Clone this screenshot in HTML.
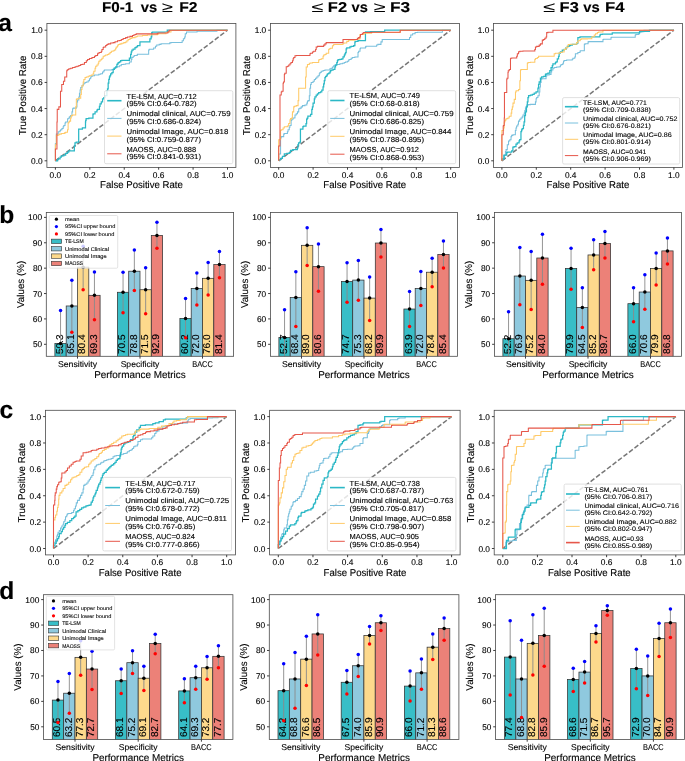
<!DOCTYPE html>
<html><head><meta charset="utf-8"><style>
html,body{margin:0;padding:0;background:#fff;width:685px;height:761px;overflow:hidden}
svg{display:block;will-change:transform}
text{font-family:"Liberation Sans", sans-serif;stroke:currentColor;stroke-width:0.12px;text-rendering:geometricPrecision}
</style></head><body>
<svg width="685" height="761" viewBox="0 0 685 761">
<rect width="685" height="761" fill="#fff"/>
<g>
<line x1="55.4" y1="160.8" x2="227.5" y2="30.2" stroke="#777" stroke-width="1.5" stroke-dasharray="4.8 2.1"/>
<polyline points="55.4,160.8 55.4,147.78 55.4,143.44 56.34,143.44 56.34,134.13 58.2,134.13 58.2,131.65 60.07,131.65 60.07,130.41 60.69,130.41 60.69,129.79 61.93,129.79 61.93,128.55 63.17,128.55 63.17,126.69 63.79,126.69 63.79,125.45 65.03,125.45 65.03,122.96 65.65,122.96 65.65,121.99 67.6,121.99 67.6,121.1 67.6,119.99 67.6,119.86 67.6,118.74 68.85,118.74 68.85,118.62 68.85,118 69.37,118 69.37,116.87 70.47,116.87 70.47,115.62 71.97,115.62 71.97,111.88 72.59,111.88 72.59,108.75 73.22,108.75 73.22,108.13 75.09,108.13 76.34,108.13 76.34,106.88 76.96,106.88 76.96,101.89 77.59,101.89 77.59,100.02 78.84,100.02 78.84,96.9 79.46,96.9 79.46,93.15 80.08,93.15 80.08,90.03 80.71,90.03 80.71,87.54 81.96,87.54 81.96,85.66 83.2,85.66 83.2,84.42 83.83,84.42 83.83,83.17 85.08,83.17 85.08,82.54 86.32,82.54 86.32,81.92 88.2,81.92 88.2,80.67 89.44,80.67 89.44,78.8 90.69,78.8 90.69,76.93 91.32,76.93 91.32,76.3 92.57,76.3 92.57,75.68 94.44,75.68 94.44,75.05 96.93,75.05 98.81,75.05 98.81,74.18 100.68,74.18 100.68,73.81 102.55,73.81 102.55,71.93 103.8,71.93 103.8,70.69 104.42,70.69 104.42,70.06 105.67,70.06 111.91,70.06 111.91,69.44 113.78,69.44 113.78,68.19 115.03,68.19 115.03,67.57 116.9,67.57 116.9,66.69 119.4,66.69 119.4,65.69 121.27,65.69 121.27,64.44 123.77,64.44 123.77,64.2 125.64,64.2 125.64,63.82 129.39,63.82 129.39,61.95 131.26,61.95 131.26,59.45 131.88,59.45 131.88,57.58 133.13,57.58 133.13,56.33 134.38,56.33 134.38,55.54 135,55.54 135.63,55.54 135.63,55.46 137,55.46 137,54.92 137.48,54.92 137.48,54.3 139.96,54.3 148.65,54.3 148.65,49.96 149.27,49.96 149.27,49.34 153.61,49.34 153.61,48.09 155.47,48.09 155.47,46.23 156.72,46.23 156.72,44.99 159.2,44.99 159.2,44.37 161.06,44.37 161.06,43.75 169.74,43.75 169.74,42.88 170.99,42.88 170.99,42.51 182.15,42.51 182.15,40.65 183.39,40.65 183.39,38.79 184.64,38.79 184.64,36.93 185.26,36.93 185.26,33.82 186.5,33.82 186.5,31.96 187.74,31.96 197.04,31.96 197.04,31.34 198.28,31.34 216.9,31.34 216.9,30.2 220,30.2 227.5,30.2" fill="none" stroke="#79c0dd" stroke-width="1.05" stroke-linejoin="miter"/>
<polyline points="55.4,160.8 57.58,160.8 57.58,159.57 58.2,159.57 58.2,158.95 60.07,158.95 60.07,157.09 61.31,157.09 61.31,155.85 63.79,155.85 63.79,155.23 65.65,155.23 65.65,153.36 67.51,153.36 67.51,152.12 68.75,152.12 68.75,150.88 69.99,150.88 74.34,150.88 74.34,145.92 74.96,145.92 74.96,142.82 76.2,142.82 76.2,142.2 77.44,142.2 78.68,142.2 78.68,130.41 78.68,129.17 82.4,129.17 82.4,127.93 83.02,127.93 85.5,127.93 85.5,121.99 85.7,121.99 85.7,120.48 86.12,120.48 86.12,119.36 86.12,118.62 87.36,118.62 88.82,118.62 88.82,118.12 92.57,118.12 92.57,118 92.95,118 92.95,114.37 93.19,114.37 93.19,113.75 95.06,113.75 95.06,111.88 96.93,111.88 96.93,110 97.56,110 97.56,109.38 99.43,109.38 99.43,106.26 100.05,106.26 100.05,103.76 101.3,103.76 101.3,101.89 102.55,101.89 102.55,98.77 103.8,98.77 103.8,97.52 105.05,97.52 105.05,95.65 106.92,95.65 106.92,90.66 107.54,90.66 107.54,88.78 108.17,88.78 108.17,83.17 108.79,83.17 108.79,79.42 109.42,79.42 109.42,76.93 110.04,76.93 110.04,75.68 110.66,75.68 110.66,73.81 111.91,73.81 111.91,72.56 113.16,72.56 113.16,69.44 114.41,69.44 114.41,68.19 115.66,68.19 115.66,66.94 116.9,66.94 116.9,64.44 117.53,64.44 117.53,63.82 118.15,63.82 118.15,62.57 119.4,62.57 119.4,61.95 120.65,61.95 120.65,60.7 121.9,60.7 121.9,60.45 129.39,60.45 129.39,58.2 130.63,58.2 130.63,54.46 131.26,54.46 131.26,51.96 131.88,51.96 131.88,50.09 133.13,50.09 133.13,49.22 134.38,49.22 135,49.22 135,47.59 135.63,47.59 136.24,47.59 136.24,46.85 137.48,46.85 137.48,46.35 137.48,45.61 139.96,45.61 139.96,41.89 140.58,41.89 149.89,41.89 149.89,38.79 151.13,38.79 151.13,36.93 151.75,36.93 151.75,32.58 152.37,32.58 152.37,32.21 167.26,32.21 167.26,30.2 169.12,30.2 170.36,30.2 220,30.2 227.5,30.2" fill="none" stroke="#2bb8c6" stroke-width="1.25" stroke-linejoin="miter"/>
<polyline points="55.4,160.8 55.4,147.78 55.4,144.68 56.34,144.68 56.34,135.37 58.2,135.37 58.2,134.75 59.45,134.75 59.45,134.13 61.31,134.13 61.31,133.51 64.41,133.51 64.41,132.89 65.65,132.89 65.65,132.27 67.51,132.27 67.51,129.79 68.13,129.79 68.13,122.96 68.75,122.96 68.75,121.99 69.47,121.99 69.47,121.1 70.61,121.1 70.61,118.12 70.61,118 71.23,118 71.23,116.24 71.23,115.62 72.59,115.62 72.59,115 75.72,115 75.72,106.88 76.34,106.88 76.34,99.39 76.96,99.39 76.96,98.77 78.84,98.77 78.84,98.15 80.71,98.15 80.71,94.4 81.33,94.4 81.33,89.41 81.96,89.41 81.96,85.66 83.2,85.66 83.2,81.92 83.83,81.92 83.83,79.42 85.08,79.42 85.08,77.55 86.32,77.55 86.32,76.93 88.2,76.93 88.2,76.3 89.44,76.3 89.44,75.68 91.32,75.68 91.32,75.05 93.19,75.05 93.19,73.18 93.81,73.18 93.81,71.31 95.06,71.31 95.06,68.19 95.69,68.19 95.69,66.32 96.93,66.32 96.93,65.07 98.18,65.07 98.18,63.2 98.81,63.2 98.81,61.32 100.05,61.32 100.05,60.08 101.3,60.08 101.3,59.45 101.93,59.45 101.93,58.2 103.17,58.2 103.17,56.33 104.42,56.33 104.42,55.71 105.67,55.71 105.67,55.08 107.54,55.08 107.54,54.46 108.79,54.46 108.79,53.84 110.04,53.84 110.04,52.59 111.29,52.59 111.29,51.34 113.16,51.34 113.16,50.72 114.41,50.72 114.41,50.09 115.66,50.09 115.66,48.22 116.28,48.22 116.28,46.97 117.53,46.97 117.53,45.72 118.15,45.72 118.15,44.47 120.02,44.47 120.02,43.85 121.9,43.85 121.9,43.23 123.77,43.23 123.77,42.6 125.64,42.6 125.64,41.98 126.89,41.98 126.89,40.73 128.14,40.73 128.14,39.48 130.01,39.48 130.01,38.48 131.88,38.48 131.88,37.61 133.75,37.61 135,37.61 135,36.99 135.63,36.99 135.63,36.93 136.24,36.93 136.24,36.74 137,36.74 137,36.31 137.48,36.31 137.48,35.93 142.45,35.93 142.45,35.44 147.41,35.44 147.41,35.07 151.13,35.07 151.13,34.69 157.34,34.69 157.34,34.2 158.58,34.2 158.58,33.82 166.02,33.82 166.02,32.58 168.5,32.58 168.5,31.96 170.99,31.96 170.99,30.2 171.61,30.2 197.04,30.2 220,30.2 227.5,30.2" fill="none" stroke="#ffca68" stroke-width="1.05" stroke-linejoin="miter"/>
<polyline points="55.4,160.8 55.4,149.64 55.4,149.02 56.96,149.02 56.96,121.99 57.24,121.99 57.24,118 57.24,109.38 58.86,109.38 58.86,106.88 59.74,106.88 60.49,106.88 60.49,91.28 61.74,91.28 61.74,84.42 62.23,84.42 63.48,84.42 63.48,81.3 63.86,81.3 64.73,81.3 64.73,76.93 65.11,76.93 66.73,76.93 66.73,70.69 67.23,70.69 67.23,70.06 67.98,70.06 67.98,69.44 68.85,69.44 68.85,68.81 70.72,68.81 70.72,68.19 72.59,68.19 72.59,67.57 75.09,67.57 75.09,66.69 76.96,66.69 76.96,66.32 78.84,66.32 78.84,65.44 80.71,65.44 80.71,64.44 82.58,64.44 82.58,64.2 84.45,64.2 84.45,62.57 86.32,62.57 86.32,60.7 87.57,60.7 87.57,59.45 89.44,59.45 89.44,58.45 91.94,58.45 91.94,57.58 94.44,57.58 94.44,56.33 95.69,56.33 95.69,55.46 97.56,55.46 97.56,53.84 98.18,53.84 98.18,52.96 99.43,52.96 99.43,52.59 101.3,52.59 101.3,51.34 101.93,51.34 101.93,49.47 103.17,49.47 103.17,47.59 103.8,47.59 103.8,46.97 105.67,46.97 105.67,45.47 106.92,45.47 106.92,44.47 108.17,44.47 108.17,43.85 110.66,43.85 110.66,42.98 113.16,42.98 113.16,42.6 115.03,42.6 115.03,41.73 117.53,41.73 117.53,40.73 119.4,40.73 119.4,40.48 121.27,40.48 121.27,39.48 123.15,39.48 123.15,38.48 125.64,38.48 125.64,37.61 127.51,37.61 127.51,36.99 130.01,36.99 130.01,36.36 132.51,36.36 132.51,35.49 133.75,35.49 133.75,35.07 135,35.07 135,34.49 136.24,34.45 136.24,33.86 137,33.86 151.13,33.86 157.34,33.86 157.34,33.2 158.58,33.2 158.58,32.96 167.88,32.96 167.88,31.72 169.12,31.72 169.12,30.2 170.99,30.2 197.04,30.2 198.28,30.2 220,30.2 227.5,30.2" fill="none" stroke="#e6574a" stroke-width="1.05" stroke-linejoin="miter"/>
<rect x="104.5" y="90.7" width="128.3" height="73" rx="1.5" fill="#fff" fill-opacity="0.8" stroke="#d8d8d8" stroke-width="0.8"/>
<line x1="107.2" y1="100.7" x2="121.5" y2="100.7" stroke="#2bb8c6" stroke-width="1.6"/>
<text x="126.6" y="98.6" font-size="7.3" textLength="70.13" lengthAdjust="spacingAndGlyphs">TE-LSM, AUC=0.712</text>
<text x="126.6" y="106.2" font-size="7.3" textLength="69.97" lengthAdjust="spacingAndGlyphs">(95% CI:0.64-0.782)</text>
<line x1="107.2" y1="118.4" x2="121.5" y2="118.4" stroke="#79c0dd" stroke-width="1.0"/>
<text x="126.6" y="116.3" font-size="7.3" textLength="104.01" lengthAdjust="spacingAndGlyphs">Unimodal clinical, AUC=0.759</text>
<text x="126.6" y="123.9" font-size="7.3" textLength="74.4" lengthAdjust="spacingAndGlyphs">(95% CI:0.686-0.824)</text>
<line x1="107.2" y1="136.1" x2="121.5" y2="136.1" stroke="#ffca68" stroke-width="1.0"/>
<text x="126.6" y="134" font-size="7.3" textLength="101.72" lengthAdjust="spacingAndGlyphs">Unimodal Image, AUC=0.818</text>
<text x="126.6" y="141.6" font-size="7.3" textLength="74.4" lengthAdjust="spacingAndGlyphs">(95% CI:0.759-0.877)</text>
<line x1="107.2" y1="153.8" x2="121.5" y2="153.8" stroke="#e6574a" stroke-width="1.0"/>
<text x="126.6" y="151.7" font-size="7.3" textLength="69.53" lengthAdjust="spacingAndGlyphs">MAOSS, AUC=0.888</text>
<text x="126.6" y="159.3" font-size="7.3" textLength="74.4" lengthAdjust="spacingAndGlyphs">(95% CI:0.841-0.931)</text>
<rect x="46.9" y="23.55" width="189" height="143.85" fill="none" stroke="#4a4a4a" stroke-width="0.8"/>
<line x1="55.4" y1="167.4" x2="55.4" y2="169.7" stroke="#2a2a2a" stroke-width="0.9"/>
<text x="55.4" y="177.8" font-size="8.35" text-anchor="middle" textLength="11.59" lengthAdjust="spacingAndGlyphs">0.0</text>
<line x1="44.6" y1="160.8" x2="46.9" y2="160.8" stroke="#2a2a2a" stroke-width="0.9"/>
<text x="42.7" y="163.8" font-size="8.35" text-anchor="end" textLength="11.59" lengthAdjust="spacingAndGlyphs">0.0</text>
<line x1="89.82" y1="167.4" x2="89.82" y2="169.7" stroke="#2a2a2a" stroke-width="0.9"/>
<text x="89.82" y="177.8" font-size="8.35" text-anchor="middle" textLength="11.42" lengthAdjust="spacingAndGlyphs">0.2</text>
<line x1="44.6" y1="134.68" x2="46.9" y2="134.68" stroke="#2a2a2a" stroke-width="0.9"/>
<text x="42.7" y="137.68" font-size="8.35" text-anchor="end" textLength="11.42" lengthAdjust="spacingAndGlyphs">0.2</text>
<line x1="124.24" y1="167.4" x2="124.24" y2="169.7" stroke="#2a2a2a" stroke-width="0.9"/>
<text x="124.24" y="177.8" font-size="8.35" text-anchor="middle" textLength="11.58" lengthAdjust="spacingAndGlyphs">0.4</text>
<line x1="44.6" y1="108.56" x2="46.9" y2="108.56" stroke="#2a2a2a" stroke-width="0.9"/>
<text x="42.7" y="111.56" font-size="8.35" text-anchor="end" textLength="11.58" lengthAdjust="spacingAndGlyphs">0.4</text>
<line x1="158.66" y1="167.4" x2="158.66" y2="169.7" stroke="#2a2a2a" stroke-width="0.9"/>
<text x="158.66" y="177.8" font-size="8.35" text-anchor="middle" textLength="11.66" lengthAdjust="spacingAndGlyphs">0.6</text>
<line x1="44.6" y1="82.44" x2="46.9" y2="82.44" stroke="#2a2a2a" stroke-width="0.9"/>
<text x="42.7" y="85.44" font-size="8.35" text-anchor="end" textLength="11.66" lengthAdjust="spacingAndGlyphs">0.6</text>
<line x1="193.08" y1="167.4" x2="193.08" y2="169.7" stroke="#2a2a2a" stroke-width="0.9"/>
<text x="193.08" y="177.8" font-size="8.35" text-anchor="middle" textLength="11.61" lengthAdjust="spacingAndGlyphs">0.8</text>
<line x1="44.6" y1="56.32" x2="46.9" y2="56.32" stroke="#2a2a2a" stroke-width="0.9"/>
<text x="42.7" y="59.32" font-size="8.35" text-anchor="end" textLength="11.61" lengthAdjust="spacingAndGlyphs">0.8</text>
<line x1="227.5" y1="167.4" x2="227.5" y2="169.7" stroke="#2a2a2a" stroke-width="0.9"/>
<text x="227.5" y="177.8" font-size="8.35" text-anchor="middle" textLength="11.57" lengthAdjust="spacingAndGlyphs">1.0</text>
<line x1="44.6" y1="30.2" x2="46.9" y2="30.2" stroke="#2a2a2a" stroke-width="0.9"/>
<text x="42.7" y="33.2" font-size="8.35" text-anchor="end" textLength="11.57" lengthAdjust="spacingAndGlyphs">1.0</text>
<text x="141.45" y="188.2" font-size="9.93" text-anchor="middle" textLength="82.76" lengthAdjust="spacingAndGlyphs">False Positive Rate</text>
<text x="26.5" y="95.48" font-size="9.93" text-anchor="middle" textLength="79.65" lengthAdjust="spacingAndGlyphs" transform="rotate(-90 26.5 95.48)">True Positive Rate</text>
</g>
<g>
<line x1="278.7" y1="160.8" x2="450.7" y2="30.2" stroke="#777" stroke-width="1.5" stroke-dasharray="4.8 2.1"/>
<polyline points="278.7,160.8 278.7,155.23 278.7,153.99 280.58,153.99 280.58,141.58 280.58,137.85 281.2,137.85 281.2,136.61 283.69,136.61 283.69,134.13 284.31,134.13 284.31,133.51 287.41,133.51 287.41,131.65 288.03,131.65 288.03,129.79 289.27,129.79 289.27,127.31 289.89,127.31 289.89,125.45 291.13,125.45 291.13,121.99 291.13,120.48 291.75,120.48 291.75,119.36 291.75,119.24 292.99,119.24 292.99,118.74 293.1,118.74 293.1,118 294.85,118 294.85,117.49 294.97,117.49 294.97,115 296.22,115 296.22,113.75 297.47,113.75 297.47,111.88 298.72,111.88 298.72,108.75 299.96,108.75 299.96,108.13 301.21,108.13 301.21,106.88 302.46,106.88 302.46,105.63 304.96,105.63 304.96,105.01 306.83,105.01 306.83,103.14 307.45,103.14 307.45,101.27 308.08,101.27 308.08,100.64 309.32,100.64 309.32,95.65 309.95,95.65 309.95,88.16 310.57,88.16 310.57,84.42 311.2,84.42 311.2,82.54 313.07,82.54 313.07,81.3 314.32,81.3 314.32,79.42 315.57,79.42 315.57,78.17 316.81,78.17 316.81,76.93 318.06,76.93 318.06,75.68 319.31,75.68 319.31,73.81 319.93,73.81 319.93,72.56 321.18,72.56 321.18,71.31 323.05,71.31 323.05,70.44 324.93,70.44 324.93,70.06 329.92,70.06 329.92,68.81 331.17,68.81 331.17,68.19 332.42,68.19 332.42,66.94 333.66,66.94 333.66,65.69 334.91,65.69 334.91,65.07 336.16,65.07 336.16,64.44 337.41,64.44 339.9,64.44 339.9,63.82 342.4,63.82 342.4,63.2 344.27,63.2 344.27,62.57 345.52,62.57 345.52,61.95 347.39,61.95 347.39,61.32 348.64,61.32 348.64,60.08 349.27,60.08 349.27,59.45 351.14,59.45 351.14,58.2 352.39,58.2 352.39,57.58 354.88,57.58 354.88,56.96 356.13,56.96 358,56.96 358,55.08 358,52.59 358.63,52.59 358.63,51.82 358.63,51.34 360,51.34 360,48.72 360.48,48.72 360.48,48.09 365.45,48.09 365.45,46.85 366.07,46.85 366.07,46.23 376.61,46.23 376.61,44.99 377.85,44.99 377.85,44.37 380.96,44.37 380.96,41.89 382.2,41.89 382.2,39.41 382.82,39.41 409.5,39.41 409.5,37.55 410.74,37.55 410.74,35.07 412.6,35.07 412.6,33.82 415.08,33.82 415.08,32.58 417.56,32.58 417.56,32.21 442.38,32.21 442.38,30.2 443,30.2 450.7,30.2" fill="none" stroke="#79c0dd" stroke-width="1.05" stroke-linejoin="miter"/>
<polyline points="278.7,160.8 278.7,159.57 280.58,159.57 280.58,158.33 282.45,158.33 282.45,156.47 284.31,156.47 284.31,153.99 284.93,153.99 286.79,153.99 286.79,153.36 289.27,153.36 289.27,152.74 290.51,152.74 290.51,150.26 292.99,150.26 292.99,149.64 294.85,149.64 297.34,149.64 297.34,147.78 297.96,147.78 297.96,144.68 298.58,144.68 298.58,142.82 299.82,142.82 299.82,142.2 300.44,142.2 300.44,130.41 300.44,129.17 302.92,129.17 302.92,126.69 303.54,126.69 303.54,126.07 306.02,126.07 306.02,123.58 306.64,123.58 306.64,121.99 306.64,119.24 307.26,119.24 307.26,118.12 307.26,118 307.88,118 307.88,116.87 307.88,116.24 310.57,116.24 310.57,114.37 311.82,114.37 311.82,109.38 312.44,109.38 312.44,106.88 313.07,106.88 313.07,103.14 314.32,103.14 314.32,98.77 314.94,98.77 314.94,96.9 316.19,96.9 316.19,95.02 317.44,95.02 317.44,93.78 318.69,93.78 318.69,92.53 320.56,92.53 320.56,91.9 321.81,91.9 321.81,90.03 323.05,90.03 323.05,86.91 323.68,86.91 323.68,83.79 324.3,83.79 324.3,80.67 324.93,80.67 324.93,77.55 325.55,77.55 325.55,76.3 326.8,76.3 326.8,75.05 327.42,75.05 327.42,73.81 328.67,73.81 328.67,73.18 329.92,73.18 329.92,71.93 330.54,71.93 330.54,70.69 331.17,70.69 331.17,70.06 333.04,70.06 333.04,69.44 334.91,69.44 334.91,66.94 335.54,66.94 335.54,65.07 336.78,65.07 336.78,62.57 337.41,62.57 337.41,60.7 338.03,60.7 338.03,59.7 339.9,59.7 339.9,59.45 341.78,59.45 341.78,58.83 343.02,58.83 343.02,56.96 344.27,56.96 344.27,55.08 344.9,55.08 344.9,53.84 345.52,53.84 345.52,52.59 346.15,52.59 346.15,48.84 346.77,48.84 346.77,47.97 347.39,47.97 349.89,47.97 349.89,46.97 351.14,46.97 351.14,46.35 353.63,46.35 353.63,45.72 354.88,45.72 354.88,41.98 355.51,41.98 355.51,41.35 356.13,41.35 356.13,41.27 358,41.27 358,40.73 360,40.73 365.45,40.73 365.45,32.58 365.45,31.96 370.41,31.96 370.41,31.72 384.68,31.72 384.68,30.2 385.3,30.2 443,30.2 450.7,30.2" fill="none" stroke="#2bb8c6" stroke-width="1.25" stroke-linejoin="miter"/>
<polyline points="278.7,160.8 278.7,145.3 278.7,140.34 278.7,139.72 280.58,139.72 280.58,130.41 281.2,130.41 281.2,129.79 283.07,129.79 283.07,127.93 284.31,127.93 284.31,126.69 287.41,126.69 287.41,126.07 288.65,126.07 288.65,123.58 289.89,123.58 289.89,121.99 289.98,121.99 289.98,119.86 290.51,119.86 290.51,119.36 290.6,119.36 290.6,118.62 291.75,118.62 291.75,118 292.37,118 292.37,116.24 292.37,114.37 292.47,114.37 292.47,111.88 293.72,111.88 293.72,106.88 294.35,106.88 294.35,106.26 296.22,106.26 296.22,105.63 298.09,105.63 298.09,100.64 298.72,100.64 298.72,88.16 299.34,88.16 305.58,88.16 305.58,76.93 306.2,76.93 306.2,66.94 307.45,66.94 307.45,64.44 309.32,64.44 309.32,63.2 310.57,63.2 310.57,62.95 312.44,62.95 312.44,62.57 318.69,62.57 318.69,60.08 319.31,60.08 319.31,59.45 321.18,59.45 321.18,58.83 323.05,58.83 323.05,56.33 323.68,56.33 323.68,55.08 324.93,55.08 324.93,54.46 326.17,54.46 326.17,53.21 328.67,53.21 328.67,49.47 329.3,49.47 329.3,48.84 330.54,48.84 330.54,48.22 332.42,48.22 332.42,45.72 333.66,45.72 333.66,44.47 334.29,44.47 343.02,44.47 343.02,43.23 344.27,43.23 344.27,42.98 346.77,42.98 346.77,41.35 348.64,41.35 348.64,40.11 349.89,40.11 354.88,40.11 354.88,39.48 357.38,39.48 357.38,39.41 358,39.41 358,38.86 360,38.86 360,34.45 364.2,34.45 364.2,33.2 371.65,33.2 371.65,32.58 400.19,32.58 400.19,30.2 402.67,30.2 443,30.2 450.7,30.2" fill="none" stroke="#ffca68" stroke-width="1.05" stroke-linejoin="miter"/>
<polyline points="278.7,160.8 278.7,146.54 278.7,145.92 279.96,145.92 279.99,121.99 279.99,118 279.99,95.65 279.99,95.02 281.24,95.02 281.24,91.9 281.86,91.9 281.86,91.28 283.11,91.28 283.11,83.17 283.49,83.17 283.49,81.92 284.36,81.92 284.36,74.43 284.74,74.43 284.74,73.18 286.23,73.18 286.23,66.69 287.48,66.69 287.48,66.32 288.73,66.32 288.73,65.07 289.98,65.07 289.98,63.82 290.98,63.82 290.98,62.57 292.47,62.57 292.47,60.7 293.1,60.7 293.1,58.83 293.72,58.83 293.72,57.58 294.97,57.58 294.97,55.71 296.22,55.71 296.22,55.46 298.72,55.46 309.95,55.46 309.95,53.84 310.57,53.84 310.57,53.21 312.44,53.21 312.44,51.96 313.69,51.96 313.69,51.34 315.57,51.34 315.57,49.47 316.19,49.47 316.19,46.97 317.44,46.97 317.44,46.35 319.31,46.35 323.68,46.35 323.68,45.1 324.93,45.1 324.93,43.85 326.17,43.85 326.17,42.6 326.8,42.6 343.02,42.6 343.02,39.48 343.65,39.48 357.38,39.48 357.38,38.17 358,38.17 358.63,38.17 358.63,37.61 360,37.61 360,36.31 360.48,36.31 360.48,34.45 362.34,34.45 362.34,33.2 363.58,33.2 363.58,32.58 371.65,32.58 371.65,32.21 400.19,32.21 400.19,30.2 400.81,30.2 443,30.2 450.7,30.2" fill="none" stroke="#e6574a" stroke-width="1.05" stroke-linejoin="miter"/>
<rect x="327.8" y="90.7" width="127.9" height="73" rx="1.5" fill="#fff" fill-opacity="0.8" stroke="#d8d8d8" stroke-width="0.8"/>
<line x1="330.2" y1="100.5" x2="344.5" y2="100.5" stroke="#2bb8c6" stroke-width="1.6"/>
<text x="349.6" y="98.4" font-size="7.3" textLength="70.31" lengthAdjust="spacingAndGlyphs">TE-LSM, AUC=0.749</text>
<text x="349.6" y="106" font-size="7.3" textLength="69.97" lengthAdjust="spacingAndGlyphs">(95% CI:0.68-0.818)</text>
<line x1="330.2" y1="118.4" x2="344.5" y2="118.4" stroke="#79c0dd" stroke-width="1.0"/>
<text x="349.6" y="116.3" font-size="7.3" textLength="104.01" lengthAdjust="spacingAndGlyphs">Unimodal clinical, AUC=0.759</text>
<text x="349.6" y="123.9" font-size="7.3" textLength="74.4" lengthAdjust="spacingAndGlyphs">(95% CI:0.686-0.825)</text>
<line x1="330.2" y1="136.3" x2="344.5" y2="136.3" stroke="#ffca68" stroke-width="1.0"/>
<text x="349.6" y="134.2" font-size="7.3" textLength="101.69" lengthAdjust="spacingAndGlyphs">Unimodal Image, AUC=0.844</text>
<text x="349.6" y="141.8" font-size="7.3" textLength="74.4" lengthAdjust="spacingAndGlyphs">(95% CI:0.788-0.895)</text>
<line x1="330.2" y1="154.2" x2="344.5" y2="154.2" stroke="#e6574a" stroke-width="1.0"/>
<text x="349.6" y="152.1" font-size="7.3" textLength="69.36" lengthAdjust="spacingAndGlyphs">MAOSS, AUC=0.912</text>
<text x="349.6" y="159.7" font-size="7.3" textLength="74.4" lengthAdjust="spacingAndGlyphs">(95% CI:0.868-0.953)</text>
<rect x="270.4" y="23.55" width="189" height="143.85" fill="none" stroke="#4a4a4a" stroke-width="0.8"/>
<line x1="278.7" y1="167.4" x2="278.7" y2="169.7" stroke="#2a2a2a" stroke-width="0.9"/>
<text x="278.7" y="177.8" font-size="8.35" text-anchor="middle" textLength="11.59" lengthAdjust="spacingAndGlyphs">0.0</text>
<line x1="268.1" y1="160.8" x2="270.4" y2="160.8" stroke="#2a2a2a" stroke-width="0.9"/>
<text x="266.2" y="163.8" font-size="8.35" text-anchor="end" textLength="11.59" lengthAdjust="spacingAndGlyphs">0.0</text>
<line x1="313.1" y1="167.4" x2="313.1" y2="169.7" stroke="#2a2a2a" stroke-width="0.9"/>
<text x="313.1" y="177.8" font-size="8.35" text-anchor="middle" textLength="11.42" lengthAdjust="spacingAndGlyphs">0.2</text>
<line x1="268.1" y1="134.68" x2="270.4" y2="134.68" stroke="#2a2a2a" stroke-width="0.9"/>
<text x="266.2" y="137.68" font-size="8.35" text-anchor="end" textLength="11.42" lengthAdjust="spacingAndGlyphs">0.2</text>
<line x1="347.5" y1="167.4" x2="347.5" y2="169.7" stroke="#2a2a2a" stroke-width="0.9"/>
<text x="347.5" y="177.8" font-size="8.35" text-anchor="middle" textLength="11.58" lengthAdjust="spacingAndGlyphs">0.4</text>
<line x1="268.1" y1="108.56" x2="270.4" y2="108.56" stroke="#2a2a2a" stroke-width="0.9"/>
<text x="266.2" y="111.56" font-size="8.35" text-anchor="end" textLength="11.58" lengthAdjust="spacingAndGlyphs">0.4</text>
<line x1="381.9" y1="167.4" x2="381.9" y2="169.7" stroke="#2a2a2a" stroke-width="0.9"/>
<text x="381.9" y="177.8" font-size="8.35" text-anchor="middle" textLength="11.66" lengthAdjust="spacingAndGlyphs">0.6</text>
<line x1="268.1" y1="82.44" x2="270.4" y2="82.44" stroke="#2a2a2a" stroke-width="0.9"/>
<text x="266.2" y="85.44" font-size="8.35" text-anchor="end" textLength="11.66" lengthAdjust="spacingAndGlyphs">0.6</text>
<line x1="416.3" y1="167.4" x2="416.3" y2="169.7" stroke="#2a2a2a" stroke-width="0.9"/>
<text x="416.3" y="177.8" font-size="8.35" text-anchor="middle" textLength="11.61" lengthAdjust="spacingAndGlyphs">0.8</text>
<line x1="268.1" y1="56.32" x2="270.4" y2="56.32" stroke="#2a2a2a" stroke-width="0.9"/>
<text x="266.2" y="59.32" font-size="8.35" text-anchor="end" textLength="11.61" lengthAdjust="spacingAndGlyphs">0.8</text>
<line x1="450.7" y1="167.4" x2="450.7" y2="169.7" stroke="#2a2a2a" stroke-width="0.9"/>
<text x="450.7" y="177.8" font-size="8.35" text-anchor="middle" textLength="11.57" lengthAdjust="spacingAndGlyphs">1.0</text>
<line x1="268.1" y1="30.2" x2="270.4" y2="30.2" stroke="#2a2a2a" stroke-width="0.9"/>
<text x="266.2" y="33.2" font-size="8.35" text-anchor="end" textLength="11.57" lengthAdjust="spacingAndGlyphs">1.0</text>
<text x="364.7" y="188.2" font-size="9.93" text-anchor="middle" textLength="82.76" lengthAdjust="spacingAndGlyphs">False Positive Rate</text>
<text x="250" y="95.48" font-size="9.93" text-anchor="middle" textLength="79.65" lengthAdjust="spacingAndGlyphs" transform="rotate(-90 250 95.48)">True Positive Rate</text>
</g>
<g>
<line x1="501.9" y1="160.8" x2="673.9" y2="30.2" stroke="#777" stroke-width="1.5" stroke-dasharray="4.8 2.1"/>
<polyline points="501.9,160.8 501.9,158.95 503.58,158.95 503.58,155.23 505.45,155.23 505.45,151.5 506.07,151.5 506.07,149.64 507.31,149.64 507.31,144.68 508.55,144.68 508.55,140.96 509.79,140.96 509.79,139.72 511.03,139.72 511.03,136.61 511.65,136.61 511.65,135.37 512.89,135.37 512.89,134.75 515.37,134.75 515.37,130.41 515.99,130.41 515.99,127.93 516.61,127.93 516.61,126.07 517.85,126.07 517.85,124.2 518.47,124.2 518.47,121.99 518.47,121.1 519.72,121.1 519.72,119.36 519.84,119.36 519.84,119.24 520.96,119.24 520.96,118.12 521.09,118.12 521.09,118 522.2,118 522.2,116.87 522.96,116.87 522.96,115 524.21,115 524.21,113.12 524.84,113.12 524.84,110.63 525.46,110.63 525.46,108.13 526.08,108.13 526.08,106.88 526.71,106.88 526.71,105.01 528.58,105.01 528.58,104.64 530.45,104.64 530.45,104.39 535.44,104.39 535.44,101.89 536.07,101.89 536.07,98.77 536.69,98.77 536.69,97.52 537.94,97.52 537.94,95.65 539.19,95.65 539.19,91.9 539.81,91.9 539.81,86.91 540.44,86.91 540.44,82.54 541.06,82.54 541.06,79.42 541.69,79.42 541.69,78.8 546.05,78.8 546.05,76.3 546.68,76.3 546.68,75.05 549.17,75.05 549.17,74.43 551.05,74.43 551.05,71.93 551.67,71.93 551.67,70.06 552.92,70.06 552.92,68.19 554.17,68.19 554.17,67.57 556.66,67.57 556.66,66.94 559.16,66.94 559.16,66.69 560.41,66.69 560.41,65.07 561.66,65.07 561.66,64.44 562.9,64.44 562.9,63.2 563.53,63.2 563.53,61.32 564.15,61.32 564.15,60.45 566.65,60.45 566.65,60.08 569.15,60.08 572.27,60.08 572.27,59.2 572.89,59.2 572.89,58.2 574.76,58.2 574.76,56.96 575.39,56.96 575.39,53.84 577.88,53.84 577.88,52.59 579.13,52.59 580,52.59 580,51.34 580.38,51.34 580.38,50.72 583,50.72 584.34,50.72 584.34,44.37 584.96,44.37 584.96,43.75 588.07,43.75 588.07,41.89 588.69,41.89 588.69,41.64 602.96,41.64 602.96,39.41 603.58,39.41 603.58,39.16 611.02,39.16 611.02,37.55 611.64,37.55 611.64,37.18 635.22,37.18 635.22,35.07 635.84,35.07 635.84,34.45 638.94,34.45 638.94,33.2 639.56,33.2 639.56,31.96 642.04,31.96 642.04,31.72 643.91,31.72 643.91,30.2 665,30.2 673.9,30.2" fill="none" stroke="#79c0dd" stroke-width="1.05" stroke-linejoin="miter"/>
<polyline points="501.9,160.8 501.9,158.95 504.2,158.95 504.2,155.23 506.69,155.23 506.69,152.74 507.31,152.74 507.31,152.12 511.65,152.12 511.65,150.88 512.89,150.88 512.89,147.16 514.13,147.16 514.13,146.54 515.99,146.54 515.99,144.06 517.23,144.06 517.23,142.82 519.09,142.82 519.09,140.96 519.72,140.96 519.72,139.72 520.96,139.72 520.96,131.65 521.58,131.65 521.58,129.79 522.2,129.79 522.2,128.55 523.44,128.55 523.44,125.45 524.06,125.45 524.06,121.99 524.21,121.99 524.68,121.99 524.68,119.36 524.68,118 524.68,115.62 525.46,115.62 525.46,111.88 526.46,111.88 526.46,106.88 527.33,106.88 527.33,101.89 527.96,101.89 527.96,97.52 528.58,97.52 528.58,95.65 530.45,95.65 530.45,95.02 532.32,95.02 532.32,94.4 534.2,94.4 534.2,93.15 536.07,93.15 536.07,91.9 537.94,91.9 537.94,88.16 538.57,88.16 538.57,84.42 539.19,84.42 539.19,81.92 540.44,81.92 540.44,78.17 541.69,78.17 541.69,76.93 543.56,76.93 543.56,76.3 545.43,76.3 545.43,74.43 546.05,74.43 546.05,73.81 547.93,73.81 547.93,73.18 549.8,73.18 549.8,70.69 551.05,70.69 551.05,67.57 552.3,67.57 552.3,65.69 552.92,65.69 552.92,63.82 555.42,63.82 555.42,62.57 556.04,62.57 556.04,61.95 557.29,61.95 557.29,58.83 558.54,58.83 558.54,56.33 559.16,56.33 559.16,53.21 560.41,53.21 560.41,51.96 562.28,51.96 562.28,50.09 564.15,50.09 564.15,49.47 566.02,49.47 566.02,47.59 567.27,47.59 567.27,46.35 569.15,46.35 569.15,45.72 570.39,45.72 570.39,45.1 572.27,45.1 572.27,44.47 576.63,44.47 576.63,43.23 577.88,43.23 577.88,37.61 578.51,37.61 578.51,37.55 580,37.55 580,36.99 580.38,36.99 583,36.99 599.85,36.99 599.85,35.07 600.47,35.07 600.47,34.45 602.34,34.45 602.34,34.2 612.26,34.2 612.26,32.96 613.5,32.96 639.56,32.96 639.56,31.72 640.8,31.72 640.8,31.34 649.49,31.34 649.49,30.2 650.11,30.2 665,30.2 673.9,30.2" fill="none" stroke="#2bb8c6" stroke-width="1.25" stroke-linejoin="miter"/>
<polyline points="501.9,160.8 501.9,142.82 501.9,130.41 503.58,130.41 503.58,127.93 504.2,127.93 504.2,121.99 504.86,121.99 504.86,121.72 504.86,120.61 505.49,120.61 505.49,119.86 506.07,119.86 506.07,118.74 507.36,118.74 507.36,118.62 507.93,118.62 507.93,118 509.17,118 509.17,116.87 509.23,116.87 509.23,116.24 511.11,116.24 511.11,113.12 511.73,113.12 511.73,109.38 512.35,109.38 512.35,106.88 512.98,106.88 512.98,103.14 514.23,103.14 514.23,99.39 515.47,99.39 515.47,91.9 516.1,91.9 516.1,90.66 518.59,90.66 518.59,89.41 519.84,89.41 519.84,80.67 520.47,80.67 520.47,70.06 521.09,70.06 521.09,69.44 522.96,69.44 527.33,69.44 527.33,63.2 527.96,63.2 527.96,62.57 530.45,62.57 530.45,62.2 534.82,62.2 534.82,59.45 535.44,59.45 535.44,58.45 537.32,58.45 537.32,57.58 538.57,57.58 538.57,56.33 539.19,56.33 554.17,56.33 554.17,53.84 555.42,53.84 555.42,53.21 559.78,53.21 559.78,52.59 561.66,52.59 561.66,51.96 564.15,51.96 564.15,49.47 566.02,49.47 566.02,47.59 567.9,47.59 567.9,45.1 568.52,45.1 568.52,44.47 570.39,44.47 570.39,44.22 576.63,44.22 576.63,42.6 577.88,42.6 577.88,40.65 580,40.65 580,40.11 580.38,40.11 580.38,39.41 581.24,39.41 581.24,38.86 583,38.86 587.45,38.86 587.45,38.79 591.79,38.79 591.79,36.93 592.41,36.93 592.41,36.68 594.27,36.68 594.27,35.07 595.51,35.07 595.51,33.82 597.37,33.82 597.37,32.58 598.61,32.58 598.61,31.96 602.96,31.96 602.96,30.2 604.2,30.2 665,30.2 673.9,30.2" fill="none" stroke="#ffca68" stroke-width="1.05" stroke-linejoin="miter"/>
<polyline points="501.9,160.8 501.9,135.37 501.9,134.75 503.21,134.75 503.21,126.07 503.58,126.07 503.58,125.45 504.2,125.45 504.24,121.99 504.24,118 504.45,118 504.45,93.15 504.45,92.53 506.74,92.53 506.74,79.42 506.99,79.42 506.99,78.17 507.99,78.17 507.99,72.56 508.23,72.56 508.23,70.69 509.23,70.69 509.23,69.44 510.48,69.44 510.48,58.83 510.73,58.83 510.73,58.2 511.73,58.2 511.73,57.95 516.72,57.95 516.72,56.33 517.35,56.33 517.35,53.84 518.59,53.84 518.59,51.71 519.84,51.71 519.84,51.34 522.96,51.34 522.96,50.96 534.82,50.96 534.82,49.47 535.44,49.47 535.44,46.97 536.69,46.97 536.69,46.35 539.19,46.35 539.19,45.1 540.44,45.1 540.44,43.85 542.31,43.85 542.31,40.11 543.56,40.11 543.56,39.48 544.81,39.48 544.81,38.23 546.05,38.23 546.05,36.99 546.68,36.99 546.68,32.62 547.93,32.62 547.93,32.24 552.92,32.24 552.92,30.2 554.79,30.2 580,30.2 583,30.2 665,30.2 673.9,30.2" fill="none" stroke="#e6574a" stroke-width="1.05" stroke-linejoin="miter"/>
<rect x="562.6" y="97.6" width="117.1" height="66.4" rx="1.5" fill="#fff" fill-opacity="0.8" stroke="#d8d8d8" stroke-width="0.8"/>
<line x1="564.9" y1="106.7" x2="578.2" y2="106.7" stroke="#2bb8c6" stroke-width="1.6"/>
<text x="583.1" y="104.79" font-size="6.64" textLength="63.81" lengthAdjust="spacingAndGlyphs">TE-LSM, AUC=0.771</text>
<text x="583.1" y="111.7" font-size="6.64" textLength="67.65" lengthAdjust="spacingAndGlyphs">(95% CI:0.709-0.838)</text>
<line x1="564.9" y1="123" x2="578.2" y2="123" stroke="#79c0dd" stroke-width="1.0"/>
<text x="583.1" y="121.09" font-size="6.64" textLength="94.41" lengthAdjust="spacingAndGlyphs">Unimodal clinical, AUC=0.752</text>
<text x="583.1" y="128" font-size="6.64" textLength="67.65" lengthAdjust="spacingAndGlyphs">(95% CI:0.676-0.821)</text>
<line x1="564.9" y1="139.3" x2="578.2" y2="139.3" stroke="#ffca68" stroke-width="1.0"/>
<text x="583.1" y="137.39" font-size="6.64" textLength="88.52" lengthAdjust="spacingAndGlyphs">Unimodal Image, AUC=0.86</text>
<text x="583.1" y="144.3" font-size="6.64" textLength="67.65" lengthAdjust="spacingAndGlyphs">(95% CI:0.801-0.914)</text>
<line x1="564.9" y1="155.6" x2="578.2" y2="155.6" stroke="#e6574a" stroke-width="1.0"/>
<text x="583.1" y="153.69" font-size="6.64" textLength="63.11" lengthAdjust="spacingAndGlyphs">MAOSS, AUC=0.941</text>
<text x="583.1" y="160.6" font-size="6.64" textLength="67.65" lengthAdjust="spacingAndGlyphs">(95% CI:0.906-0.969)</text>
<rect x="493.5" y="23.55" width="189" height="143.85" fill="none" stroke="#4a4a4a" stroke-width="0.8"/>
<line x1="501.9" y1="167.4" x2="501.9" y2="169.7" stroke="#2a2a2a" stroke-width="0.9"/>
<text x="501.9" y="177.8" font-size="8.35" text-anchor="middle" textLength="11.59" lengthAdjust="spacingAndGlyphs">0.0</text>
<line x1="491.2" y1="160.8" x2="493.5" y2="160.8" stroke="#2a2a2a" stroke-width="0.9"/>
<text x="489.3" y="163.8" font-size="8.35" text-anchor="end" textLength="11.59" lengthAdjust="spacingAndGlyphs">0.0</text>
<line x1="536.3" y1="167.4" x2="536.3" y2="169.7" stroke="#2a2a2a" stroke-width="0.9"/>
<text x="536.3" y="177.8" font-size="8.35" text-anchor="middle" textLength="11.42" lengthAdjust="spacingAndGlyphs">0.2</text>
<line x1="491.2" y1="134.68" x2="493.5" y2="134.68" stroke="#2a2a2a" stroke-width="0.9"/>
<text x="489.3" y="137.68" font-size="8.35" text-anchor="end" textLength="11.42" lengthAdjust="spacingAndGlyphs">0.2</text>
<line x1="570.7" y1="167.4" x2="570.7" y2="169.7" stroke="#2a2a2a" stroke-width="0.9"/>
<text x="570.7" y="177.8" font-size="8.35" text-anchor="middle" textLength="11.58" lengthAdjust="spacingAndGlyphs">0.4</text>
<line x1="491.2" y1="108.56" x2="493.5" y2="108.56" stroke="#2a2a2a" stroke-width="0.9"/>
<text x="489.3" y="111.56" font-size="8.35" text-anchor="end" textLength="11.58" lengthAdjust="spacingAndGlyphs">0.4</text>
<line x1="605.1" y1="167.4" x2="605.1" y2="169.7" stroke="#2a2a2a" stroke-width="0.9"/>
<text x="605.1" y="177.8" font-size="8.35" text-anchor="middle" textLength="11.66" lengthAdjust="spacingAndGlyphs">0.6</text>
<line x1="491.2" y1="82.44" x2="493.5" y2="82.44" stroke="#2a2a2a" stroke-width="0.9"/>
<text x="489.3" y="85.44" font-size="8.35" text-anchor="end" textLength="11.66" lengthAdjust="spacingAndGlyphs">0.6</text>
<line x1="639.5" y1="167.4" x2="639.5" y2="169.7" stroke="#2a2a2a" stroke-width="0.9"/>
<text x="639.5" y="177.8" font-size="8.35" text-anchor="middle" textLength="11.61" lengthAdjust="spacingAndGlyphs">0.8</text>
<line x1="491.2" y1="56.32" x2="493.5" y2="56.32" stroke="#2a2a2a" stroke-width="0.9"/>
<text x="489.3" y="59.32" font-size="8.35" text-anchor="end" textLength="11.61" lengthAdjust="spacingAndGlyphs">0.8</text>
<line x1="673.9" y1="167.4" x2="673.9" y2="169.7" stroke="#2a2a2a" stroke-width="0.9"/>
<text x="673.9" y="177.8" font-size="8.35" text-anchor="middle" textLength="11.57" lengthAdjust="spacingAndGlyphs">1.0</text>
<line x1="491.2" y1="30.2" x2="493.5" y2="30.2" stroke="#2a2a2a" stroke-width="0.9"/>
<text x="489.3" y="33.2" font-size="8.35" text-anchor="end" textLength="11.57" lengthAdjust="spacingAndGlyphs">1.0</text>
<text x="587.9" y="188.2" font-size="9.93" text-anchor="middle" textLength="82.76" lengthAdjust="spacingAndGlyphs">False Positive Rate</text>
<text x="473.1" y="95.48" font-size="9.93" text-anchor="middle" textLength="79.65" lengthAdjust="spacingAndGlyphs" transform="rotate(-90 473.1 95.48)">True Positive Rate</text>
</g>
<g>
<line x1="53.5" y1="548.5" x2="226.7" y2="416.6" stroke="#777" stroke-width="1.5" stroke-dasharray="4.8 2.1"/>
<polyline points="53.5,548.5 53.5,544.71 53.5,542.23 55.58,542.23 55.58,539.74 56.82,539.74 56.82,536.02 57.45,536.02 57.45,534.16 58.07,534.16 58.07,532.3 59.31,532.3 59.31,530.44 60.55,530.44 60.55,527.96 61.79,527.96 61.79,526.09 63.03,526.09 63.03,524.23 63.65,524.23 63.65,521.75 64.89,521.75 64.89,519.89 65.51,519.89 65.51,516.79 66.75,516.79 66.75,514.93 67.37,514.93 67.37,513.69 68.61,513.69 68.61,513.44 71.72,513.44 71.72,512.45 73.58,512.45 73.58,510.58 74.2,510.58 74.2,508.72 75.44,508.72 75.44,507.99 75.44,506.24 76.06,506.24 76.06,505.36 76.21,505.36 76.21,505 76.31,505 76.31,502.87 77.46,502.87 77.46,500.37 79.33,500.37 79.33,497.88 80.58,497.88 80.58,495.38 81.83,495.38 81.83,492.88 83.08,492.88 83.08,489.14 83.7,489.14 83.7,485.39 84.95,485.39 84.95,484.15 86.82,484.15 86.82,482.9 88.07,482.9 88.07,481.02 89.32,481.02 89.32,479.15 90.57,479.15 90.57,477.28 91.81,477.28 91.81,475.41 93.06,475.41 93.06,472.91 93.69,472.91 93.69,469.79 94.93,469.79 94.93,466.67 96.18,466.67 96.18,465.42 96.81,465.42 96.81,464.8 98.68,464.8 98.68,464.17 100.55,464.17 100.55,462.93 101.8,462.93 101.8,462.3 103.67,462.3 103.67,461.05 104.92,461.05 104.92,460.43 106.79,460.43 106.79,459.81 108.66,459.81 108.66,459.18 111.16,459.18 111.16,458.56 113.03,458.56 113.03,456.69 114.28,456.69 114.28,456.06 116.15,456.06 116.15,455.44 119.9,455.44 119.9,454.81 121.77,454.81 121.77,454.19 123.64,454.19 123.64,453.57 126.14,453.57 126.14,452.94 127.39,452.94 127.39,451.69 129.26,451.69 129.26,450.44 131.13,450.44 131.13,449.82 132.38,449.82 132.38,448.57 133.63,448.57 133.63,446.7 135,446.7 135,446.01 137.34,446.01 137.34,444.64 137.96,444.64 137.96,441.54 140.45,441.54 140.45,439.68 142.31,439.68 142.31,439.06 151.61,439.06 151.61,437.82 152.85,437.82 152.85,435.96 154.72,435.96 154.72,433.47 155.96,433.47 155.96,431.61 157.2,431.61 157.2,430.99 159.06,430.99 159.06,429.13 162.78,429.13 162.78,426.65 166.5,426.65 166.5,425.41 170.23,425.41 170.23,424.17 173.95,424.17 173.95,423.92 178.91,423.92 178.91,423.55 182.64,423.55 182.64,422.93 187.6,422.93 187.6,421.07 188.22,421.07 188.22,419.2 190.08,419.2 190.08,418.58 195.04,418.58 207.45,418.58 207.45,417.96 212.42,417.96 212.42,417.72 218,417.72 218,416.6 226.7,416.6" fill="none" stroke="#79c0dd" stroke-width="1.05" stroke-linejoin="miter"/>
<polyline points="53.5,548.5 53.5,545.95 54.96,545.95 54.96,543.47 56.2,543.47 56.2,540.99 57.45,540.99 57.45,538.5 58.69,538.5 58.69,536.64 59.31,536.64 59.31,533.54 61.17,533.54 61.17,531.68 62.41,531.68 62.41,529.2 63.65,529.2 63.65,527.34 64.89,527.34 64.89,525.47 65.51,525.47 65.51,523.61 67.37,523.61 67.37,522.37 69.85,522.37 69.85,520.51 71.72,520.51 71.72,518.65 73.58,518.65 73.58,517.41 74.82,517.41 74.82,516.17 76.06,516.17 76.06,513.07 76.06,511.82 77.92,511.82 77.92,510.58 79.78,510.58 79.78,509.34 81.64,509.34 81.64,507.99 83.08,507.99 83.5,507.99 83.5,507.24 84.95,507.24 84.95,506.86 85.99,506.86 85.99,505.99 87.44,505.99 87.44,505.62 88.47,505.62 88.47,505.36 89.32,505.36 89.32,505 90.95,505 90.95,504.12 91.19,504.12 91.19,502.24 92.44,502.24 92.44,500.37 93.06,500.37 93.06,497.88 93.69,497.88 93.69,496 94.93,496 94.93,494.13 95.56,494.13 95.56,492.88 96.18,492.88 96.18,490.39 97.43,490.39 97.43,487.89 98.05,487.89 98.05,486.02 98.68,486.02 98.68,484.15 99.93,484.15 99.93,482.27 100.55,482.27 100.55,480.4 101.17,480.4 101.17,477.9 102.42,477.9 102.42,475.41 103.05,475.41 103.05,473.54 104.3,473.54 104.3,472.29 106.17,472.29 106.17,470.42 107.42,470.42 107.42,469.17 108.66,469.17 108.66,467.92 109.91,467.92 109.91,466.67 111.16,466.67 111.16,465.42 112.41,465.42 112.41,464.8 113.66,464.8 113.66,463.55 114.9,463.55 114.9,462.3 116.15,462.3 116.15,460.43 117.4,460.43 117.4,459.18 118.65,459.18 118.65,458.56 119.9,458.56 119.9,456.06 120.52,456.06 120.52,452.94 121.15,452.94 121.15,449.2 121.77,449.2 121.77,447.32 122.39,447.32 122.39,446.08 123.64,446.08 123.64,444.2 124.89,444.2 124.89,442.96 126.76,442.96 126.76,442.33 128.63,442.33 128.63,441.71 130.51,441.71 130.51,439.68 133,439.68 133,437.96 133,436.72 133.63,436.72 133.63,435.47 135,435.47 135,432.85 135,432.23 136.72,432.23 136.72,429.75 139.2,429.75 139.2,427.27 140.45,427.27 140.45,425.41 145.41,425.41 145.41,424.79 152.85,424.79 152.85,423.55 155.34,423.55 155.34,422.93 159.06,422.93 159.06,421.69 163.4,421.69 163.4,419.82 165.26,419.82 165.26,419.2 165.88,419.2 186.36,419.2 186.36,417.72 187.6,417.72 187.6,416.6 218,416.6 226.7,416.6" fill="none" stroke="#2bb8c6" stroke-width="1.25" stroke-linejoin="miter"/>
<polyline points="53.5,548.5 53.5,536.02 53.5,529.82 53.5,519.89 54.96,519.89 54.96,517.41 55.58,517.41 55.58,514.93 56.82,514.93 56.82,511.2 57.45,511.2 57.49,507.99 57.49,507.48 58.07,507.48 58.07,505 58.69,505 58.69,502.87 58.69,499.12 58.99,499.12 58.99,495.38 59.99,495.38 59.99,492.88 61.86,492.88 61.86,491.01 63.11,491.01 63.11,488.51 64.98,488.51 64.98,485.39 66.85,485.39 66.85,484.15 68.72,484.15 68.72,482.27 70.59,482.27 70.59,479.78 71.84,479.78 71.84,477.9 73.09,477.9 73.09,477.28 74.96,477.28 74.96,476.66 76.84,476.66 76.84,475.41 78.71,475.41 78.71,474.78 79.96,474.78 79.96,472.29 81.83,472.29 81.83,469.79 83.08,469.79 83.08,468.54 84.32,468.54 84.32,467.3 86.2,467.3 86.2,466.67 88.69,466.67 88.69,464.17 89.94,464.17 89.94,462.93 91.19,462.93 91.19,461.05 93.06,461.05 93.06,459.81 94.93,459.81 94.93,458.56 96.81,458.56 96.81,456.69 98.68,456.69 98.68,454.81 99.3,454.81 99.3,453.57 101.17,453.57 101.17,452.32 102.42,452.32 102.42,450.44 104.3,450.44 104.3,449.45 106.17,449.45 106.17,447.95 108.66,447.95 108.66,446.08 109.91,446.08 109.91,444.83 111.78,444.83 111.78,443.58 113.66,443.58 113.66,442.33 116.15,442.33 116.15,440.71 118.02,440.71 118.02,439.21 119.9,439.21 119.9,437.96 121.77,437.96 121.77,436.09 123.64,436.09 123.64,435.47 125.51,435.47 125.51,434.84 127.39,434.84 127.39,434.22 129.88,434.22 132.38,434.22 133,434.22 133,433.97 135,433.97 135,432.85 135.48,432.85 135.48,430.99 139.2,430.99 139.2,429.75 140.45,429.75 140.45,429.13 149.13,429.13 149.13,428.51 157.82,428.51 157.82,427.27 161.54,427.27 161.54,426.03 165.26,426.03 165.26,425.41 168.99,425.41 168.99,423.55 172.71,423.55 172.71,422.31 173.95,422.31 173.95,421.07 176.43,421.07 176.43,420.45 180.15,420.45 180.15,419.82 186.36,419.82 186.36,417.96 187.6,417.96 187.6,416.6 189.46,416.6 218,416.6 226.7,416.6" fill="none" stroke="#ffca68" stroke-width="1.05" stroke-linejoin="miter"/>
<polyline points="53.5,548.5 53.5,521.13 53.5,519.89 53.5,507.99 53.5,505 54.72,505 54.72,500.37 54.99,500.37 54.99,495.38 55.24,495.38 55.24,492.88 56.24,492.88 56.24,489.14 56.86,489.14 56.86,486.64 57.49,486.64 57.49,484.77 58.74,484.77 58.74,482.27 59.99,482.27 59.99,481.65 61.23,481.65 61.23,477.9 61.86,477.9 61.86,472.91 62.48,472.91 64.98,472.91 64.98,471.66 66.23,471.66 66.23,470.42 67.47,470.42 67.47,467.92 69.35,467.92 69.35,466.05 71.22,466.05 71.22,464.17 73.09,464.17 73.09,462.3 74.96,462.3 74.96,461.43 76.21,461.43 76.21,461.05 79.96,461.05 79.96,459.18 81.2,459.18 81.2,456.06 83.08,456.06 83.08,452.69 83.7,452.69 86.2,452.69 86.2,452.32 88.69,452.32 88.69,451.69 91.19,451.69 91.19,450.44 92.44,450.44 92.44,450.2 94.31,450.2 96.81,450.2 96.81,449.2 98.68,449.2 98.68,448.57 101.17,448.57 101.17,447.95 104.92,447.95 104.92,447.32 107.42,447.32 107.42,446.7 109.91,446.7 109.91,446.08 112.41,446.08 112.41,445.7 114.9,445.7 118.65,445.7 118.65,444.83 121.15,444.83 121.15,443.58 123.02,443.58 123.02,442.96 124.89,442.96 124.89,442.33 127.39,442.33 127.39,441.46 129.88,441.46 129.88,440.46 132.38,440.46 132.38,440.3 133,440.3 133,439.21 135,439.21 135,438.44 135.48,438.44 135.48,437.2 137.96,437.2 137.96,435.34 140.45,435.34 140.45,434.72 142.93,434.72 142.93,433.47 145.41,433.47 145.41,432.23 146.65,432.23 146.65,431.61 150.37,431.61 150.37,430.99 154.09,430.99 154.09,430.12 157.82,430.12 157.82,429.13 162.78,429.13 162.78,428.51 165.26,428.51 165.26,427.89 167.12,427.89 167.12,426.03 168.99,426.03 168.99,425.41 171.47,425.41 171.47,424.79 174.57,424.79 174.57,424.17 177.67,424.17 177.67,423.55 180.15,423.55 180.15,422.93 182.64,422.93 182.64,422.31 186.36,422.31 186.36,421.93 190.08,421.93 194.42,421.93 194.42,419.82 196.28,419.82 196.28,419.45 207.45,419.45 207.45,416.6 210.55,416.6 218,416.6 226.7,416.6" fill="none" stroke="#e6574a" stroke-width="1.05" stroke-linejoin="miter"/>
<rect x="102.8" y="477.4" width="128.7" height="73.5" rx="1.5" fill="#fff" fill-opacity="0.8" stroke="#d8d8d8" stroke-width="0.8"/>
<line x1="105.2" y1="487.6" x2="120" y2="487.6" stroke="#2bb8c6" stroke-width="1.6"/>
<text x="125.3" y="485.5" font-size="7.3" textLength="70.23" lengthAdjust="spacingAndGlyphs">TE-LSM, AUC=0.717</text>
<text x="125.3" y="493.1" font-size="7.3" textLength="74.4" lengthAdjust="spacingAndGlyphs">(95% CI:0.672-0.759)</text>
<line x1="105.2" y1="505.5" x2="120" y2="505.5" stroke="#79c0dd" stroke-width="1.0"/>
<text x="125.3" y="503.4" font-size="7.3" textLength="103.84" lengthAdjust="spacingAndGlyphs">Unimodal clinical, AUC=0.725</text>
<text x="125.3" y="511" font-size="7.3" textLength="74.4" lengthAdjust="spacingAndGlyphs">(95% CI:0.678-0.772)</text>
<line x1="105.2" y1="523.4" x2="120" y2="523.4" stroke="#ffca68" stroke-width="1.0"/>
<text x="125.3" y="521.3" font-size="7.3" textLength="101.6" lengthAdjust="spacingAndGlyphs">Unimodal Image, AUC=0.811</text>
<text x="125.3" y="528.9" font-size="7.3" textLength="69.97" lengthAdjust="spacingAndGlyphs">(95% CI:0.767-0.85)</text>
<line x1="105.2" y1="541.3" x2="120" y2="541.3" stroke="#e6574a" stroke-width="1.0"/>
<text x="125.3" y="539.2" font-size="7.3" textLength="69.51" lengthAdjust="spacingAndGlyphs">MAOSS, AUC=0.824</text>
<text x="125.3" y="546.8" font-size="7.3" textLength="74.4" lengthAdjust="spacingAndGlyphs">(95% CI:0.777-0.866)</text>
<rect x="45.4" y="410.3" width="190.1" height="144.6" fill="none" stroke="#4a4a4a" stroke-width="0.8"/>
<line x1="53.5" y1="554.9" x2="53.5" y2="557.2" stroke="#2a2a2a" stroke-width="0.9"/>
<text x="53.5" y="565.3" font-size="8.35" text-anchor="middle" textLength="11.59" lengthAdjust="spacingAndGlyphs">0.0</text>
<line x1="43.1" y1="548.5" x2="45.4" y2="548.5" stroke="#2a2a2a" stroke-width="0.9"/>
<text x="41.2" y="551.5" font-size="8.35" text-anchor="end" textLength="11.59" lengthAdjust="spacingAndGlyphs">0.0</text>
<line x1="88.14" y1="554.9" x2="88.14" y2="557.2" stroke="#2a2a2a" stroke-width="0.9"/>
<text x="88.14" y="565.3" font-size="8.35" text-anchor="middle" textLength="11.42" lengthAdjust="spacingAndGlyphs">0.2</text>
<line x1="43.1" y1="522.12" x2="45.4" y2="522.12" stroke="#2a2a2a" stroke-width="0.9"/>
<text x="41.2" y="525.12" font-size="8.35" text-anchor="end" textLength="11.42" lengthAdjust="spacingAndGlyphs">0.2</text>
<line x1="122.78" y1="554.9" x2="122.78" y2="557.2" stroke="#2a2a2a" stroke-width="0.9"/>
<text x="122.78" y="565.3" font-size="8.35" text-anchor="middle" textLength="11.58" lengthAdjust="spacingAndGlyphs">0.4</text>
<line x1="43.1" y1="495.74" x2="45.4" y2="495.74" stroke="#2a2a2a" stroke-width="0.9"/>
<text x="41.2" y="498.74" font-size="8.35" text-anchor="end" textLength="11.58" lengthAdjust="spacingAndGlyphs">0.4</text>
<line x1="157.42" y1="554.9" x2="157.42" y2="557.2" stroke="#2a2a2a" stroke-width="0.9"/>
<text x="157.42" y="565.3" font-size="8.35" text-anchor="middle" textLength="11.66" lengthAdjust="spacingAndGlyphs">0.6</text>
<line x1="43.1" y1="469.36" x2="45.4" y2="469.36" stroke="#2a2a2a" stroke-width="0.9"/>
<text x="41.2" y="472.36" font-size="8.35" text-anchor="end" textLength="11.66" lengthAdjust="spacingAndGlyphs">0.6</text>
<line x1="192.06" y1="554.9" x2="192.06" y2="557.2" stroke="#2a2a2a" stroke-width="0.9"/>
<text x="192.06" y="565.3" font-size="8.35" text-anchor="middle" textLength="11.61" lengthAdjust="spacingAndGlyphs">0.8</text>
<line x1="43.1" y1="442.98" x2="45.4" y2="442.98" stroke="#2a2a2a" stroke-width="0.9"/>
<text x="41.2" y="445.98" font-size="8.35" text-anchor="end" textLength="11.61" lengthAdjust="spacingAndGlyphs">0.8</text>
<line x1="226.7" y1="554.9" x2="226.7" y2="557.2" stroke="#2a2a2a" stroke-width="0.9"/>
<text x="226.7" y="565.3" font-size="8.35" text-anchor="middle" textLength="11.57" lengthAdjust="spacingAndGlyphs">1.0</text>
<line x1="43.1" y1="416.6" x2="45.4" y2="416.6" stroke="#2a2a2a" stroke-width="0.9"/>
<text x="41.2" y="419.6" font-size="8.35" text-anchor="end" textLength="11.57" lengthAdjust="spacingAndGlyphs">1.0</text>
<text x="140.1" y="575.7" font-size="9.93" text-anchor="middle" textLength="82.76" lengthAdjust="spacingAndGlyphs">False Positive Rate</text>
<text x="25" y="482.6" font-size="9.93" text-anchor="middle" textLength="79.65" lengthAdjust="spacingAndGlyphs" transform="rotate(-90 25 482.6)">True Positive Rate</text>
</g>
<g>
<line x1="278.3" y1="548.5" x2="451.6" y2="416.6" stroke="#777" stroke-width="1.5" stroke-dasharray="4.8 2.1"/>
<polyline points="278.3,548.5 278.3,544.71 279.34,544.71 279.34,541.61 280.58,541.61 280.58,537.26 281.82,537.26 281.82,534.16 282.45,534.16 282.45,533.54 283.69,533.54 283.69,529.82 284.31,529.82 284.31,527.96 284.93,527.96 286.79,527.96 286.79,524.85 287.41,524.85 287.41,519.89 288.03,519.89 288.03,516.17 288.65,516.17 288.65,513.69 289.27,513.69 289.27,511.82 289.89,511.82 289.89,509.34 291.13,509.34 291.13,507.99 291.23,507.99 291.23,506.24 292.37,506.24 292.37,505 292.99,505 292.99,504.12 292.99,502.24 293.72,502.24 293.72,501.62 295.59,501.62 295.59,500.37 297.47,500.37 297.47,498.5 299.34,498.5 299.34,496.63 301.21,496.63 301.21,494.13 301.84,494.13 301.84,491.63 303.08,491.63 303.08,489.14 304.33,489.14 304.33,485.39 305.58,485.39 305.58,481.02 306.83,481.02 306.83,476.03 308.7,476.03 308.7,472.91 310.57,472.91 310.57,472.29 314.32,472.29 314.32,471.04 316.81,471.04 316.81,470.42 318.69,470.42 318.69,467.92 319.31,467.92 319.31,465.42 319.93,465.42 319.93,463.55 321.18,463.55 321.18,462.93 323.05,462.93 323.05,460.43 323.68,460.43 323.68,458.56 324.93,458.56 324.93,458.18 328.67,458.18 328.67,456.69 329.92,456.69 329.92,454.19 331.17,454.19 331.17,452.94 332.42,452.94 332.42,452.69 339.9,452.69 339.9,451.69 342.4,451.69 342.4,449.82 343.65,449.82 343.65,449.45 347.39,449.45 347.39,449.2 352.39,449.2 352.39,447.95 353.63,447.95 353.63,446.7 354.88,446.7 354.88,446.08 357.38,446.08 357.38,446.01 358,446.01 358,445.7 360,445.7 360,444.02 360,443.4 362.96,443.4 362.96,438.44 363.58,438.44 363.58,437.82 367.31,437.82 367.31,433.47 368.55,433.47 368.55,431.61 369.17,431.61 369.17,429.13 370.41,429.13 370.41,428.51 379.72,428.51 379.72,426.65 381.58,426.65 381.58,425.41 382.82,425.41 382.82,424.79 389.64,424.79 389.64,420.45 390.26,420.45 390.26,419.82 397.71,419.82 397.71,418.58 398.95,418.58 398.95,417.96 405.15,417.96 405.15,416.6 405.77,416.6 443,416.6 451.6,416.6" fill="none" stroke="#79c0dd" stroke-width="1.05" stroke-linejoin="miter"/>
<polyline points="278.3,548.5 278.3,544.71 279.96,544.71 279.96,540.99 281.2,540.99 281.2,538.5 282.45,538.5 282.45,536.64 283.69,536.64 283.69,534.16 285.55,534.16 285.55,531.06 287.41,531.06 287.41,528.58 289.27,528.58 289.27,526.09 290.51,526.09 290.51,524.85 291.75,524.85 294.85,524.85 294.85,523.61 296.09,523.61 296.09,521.75 296.72,521.75 296.72,520.51 297.96,520.51 297.96,517.41 298.58,517.41 298.58,516.17 301.06,516.17 301.06,513.07 301.68,513.07 301.68,512.45 304.78,512.45 304.78,511.2 306.02,511.2 306.02,510.58 307.88,510.58 307.88,509.96 310.99,509.96 310.99,508.72 312.23,508.72 312.23,507.99 313.07,507.99 313.07,506.86 313.47,506.86 313.47,504.12 313.69,504.12 314.71,504.12 314.71,502.87 315.57,502.87 315.57,499.12 317.44,499.12 317.44,496 318.69,496 318.69,494.13 319.93,494.13 319.93,491.63 320.56,491.63 320.56,487.89 321.81,487.89 321.81,484.15 323.05,484.15 323.05,480.4 324.3,480.4 324.3,477.9 324.93,477.9 327.42,477.9 327.42,476.66 328.05,476.66 328.05,472.91 328.67,472.91 328.67,471.04 329.92,471.04 329.92,470.42 331.17,470.42 331.17,469.17 332.42,469.17 332.42,466.67 333.04,466.67 333.04,464.17 334.29,464.17 334.29,462.3 335.54,462.3 335.54,459.81 336.16,459.81 336.16,457.31 337.41,457.31 337.41,455.44 338.03,455.44 338.03,452.94 338.66,452.94 338.66,449.82 339.28,449.82 339.28,446.7 339.9,446.7 339.9,444.83 341.15,444.83 341.15,443.58 342.4,443.58 342.4,441.71 343.65,441.71 343.65,440.46 344.9,440.46 344.9,439.84 346.77,439.84 346.77,437.96 348.64,437.96 348.64,436.72 350.51,436.72 350.51,435.47 352.39,435.47 352.39,434.84 354.26,434.84 354.26,433.59 356.13,433.59 356.13,431.61 358,431.61 358,427.98 358,426.11 358,425.41 358.62,425.41 360,425.41 360,424.79 362.96,424.79 362.96,423.55 363.58,423.55 363.58,422.93 379.72,422.93 379.72,421.93 380.96,421.93 380.96,421.44 384.68,421.44 384.68,416.6 385.3,416.6 405.15,416.6 443,416.6 451.6,416.6" fill="none" stroke="#2bb8c6" stroke-width="1.25" stroke-linejoin="miter"/>
<polyline points="278.3,548.5 278.3,529.82 278.3,507.99 278.3,505 279.34,505 279.34,502.87 279.99,502.87 279.99,497.88 281.24,497.88 281.24,492.88 282.49,492.88 282.49,487.89 283.74,487.89 283.74,481.65 284.99,481.65 284.99,475.41 286.23,475.41 286.23,469.17 287.48,469.17 287.48,467.3 288.73,467.3 291.23,467.3 291.23,462.93 292.47,462.93 292.47,460.43 293.72,460.43 293.72,456.69 294.97,456.69 294.97,454.19 296.22,454.19 296.22,453.57 298.09,453.57 298.09,452.94 299.96,452.94 299.96,450.44 301.84,450.44 301.84,447.95 303.08,447.95 303.08,447.32 306.2,447.32 306.2,446.08 308.7,446.08 308.7,445.45 311.2,445.45 311.2,444.2 312.44,444.2 312.44,442.96 313.69,442.96 313.69,441.71 314.94,441.71 314.94,440.46 317.44,440.46 317.44,439.84 319.93,439.84 319.93,438.59 321.81,438.59 321.81,437.96 328.67,437.96 332.42,437.96 332.42,436.72 334.91,436.72 338.66,436.72 338.66,435.47 342.4,435.47 342.4,434.84 344.9,434.84 344.9,433.97 349.89,433.97 349.89,433.22 354.88,433.22 354.88,432.85 358,432.85 358,432.72 360,432.72 367.31,432.72 367.31,430.99 368.55,430.99 368.55,429.75 369.79,429.75 369.79,429.13 379.09,429.13 379.09,427.89 379.72,427.89 379.72,427.27 384.06,427.27 384.06,424.79 384.68,424.79 384.68,424.17 405.15,424.17 405.15,422.31 405.77,422.31 405.77,421.93 420.04,421.93 420.04,420.45 422.53,420.45 422.53,418.58 423.77,418.58 423.77,417.96 429.97,417.96 429.97,416.6 431.21,416.6 443,416.6 451.6,416.6" fill="none" stroke="#ffca68" stroke-width="1.05" stroke-linejoin="miter"/>
<polyline points="278.3,548.5 278.3,507.99 278.3,505 278.3,494.13 278.3,480.4 279.37,480.4 279.37,467.92 279.99,467.92 279.99,462.93 280.62,462.93 280.62,455.44 281.24,455.44 281.24,450.44 282.49,450.44 282.49,448.57 283.74,448.57 283.74,447.32 284.99,447.32 284.99,445.45 286.86,445.45 286.86,443.58 287.48,443.58 287.48,442.33 289.35,442.33 289.35,439.21 290.6,439.21 290.6,438.59 291.85,438.59 291.85,437.34 293.1,437.34 293.1,435.47 294.35,435.47 294.35,434.84 295.59,434.84 295.59,434.47 302.46,434.47 302.46,432.97 303.71,432.97 343.65,432.97 343.65,431.72 344.9,431.72 344.9,431.1 349.89,431.1 349.89,430.47 354.88,430.47 354.88,429.23 356.75,429.23 356.75,429.13 358,429.13 358,428.98 360,428.98 360,427.89 360.48,427.89 360.48,427.64 361.72,427.64 361.72,427.27 391.5,427.27 391.5,425.41 392.12,425.41 392.12,425.16 407.01,425.16 407.01,424.17 407.64,424.17 407.64,423.55 413.84,423.55 413.84,422.31 414.46,422.31 414.46,421.69 417.56,421.69 417.56,420.45 421.28,420.45 421.28,416.6 422.53,416.6 423.77,416.6 443,416.6 451.6,416.6" fill="none" stroke="#e6574a" stroke-width="1.05" stroke-linejoin="miter"/>
<rect x="327.4" y="477.4" width="128.5" height="73.5" rx="1.5" fill="#fff" fill-opacity="0.8" stroke="#d8d8d8" stroke-width="0.8"/>
<line x1="330" y1="487.6" x2="344.8" y2="487.6" stroke="#2bb8c6" stroke-width="1.6"/>
<text x="349.6" y="485.5" font-size="7.3" textLength="70.3" lengthAdjust="spacingAndGlyphs">TE-LSM, AUC=0.738</text>
<text x="349.6" y="493.1" font-size="7.3" textLength="74.4" lengthAdjust="spacingAndGlyphs">(95% CI:0.687-0.787)</text>
<line x1="330" y1="505.5" x2="344.8" y2="505.5" stroke="#79c0dd" stroke-width="1.0"/>
<text x="349.6" y="503.4" font-size="7.3" textLength="103.91" lengthAdjust="spacingAndGlyphs">Unimodal clinical, AUC=0.763</text>
<text x="349.6" y="511" font-size="7.3" textLength="74.4" lengthAdjust="spacingAndGlyphs">(95% CI:0.705-0.817)</text>
<line x1="330" y1="523.4" x2="344.8" y2="523.4" stroke="#ffca68" stroke-width="1.0"/>
<text x="349.6" y="521.3" font-size="7.3" textLength="101.72" lengthAdjust="spacingAndGlyphs">Unimodal Image, AUC=0.858</text>
<text x="349.6" y="528.9" font-size="7.3" textLength="74.4" lengthAdjust="spacingAndGlyphs">(95% CI:0.798-0.907)</text>
<line x1="330" y1="541.3" x2="344.8" y2="541.3" stroke="#e6574a" stroke-width="1.0"/>
<text x="349.6" y="539.2" font-size="7.3" textLength="69.39" lengthAdjust="spacingAndGlyphs">MAOSS, AUC=0.905</text>
<text x="349.6" y="546.8" font-size="7.3" textLength="69.97" lengthAdjust="spacingAndGlyphs">(95% CI:0.85-0.954)</text>
<rect x="269.6" y="410.3" width="190.5" height="144.6" fill="none" stroke="#4a4a4a" stroke-width="0.8"/>
<line x1="278.3" y1="554.9" x2="278.3" y2="557.2" stroke="#2a2a2a" stroke-width="0.9"/>
<text x="278.3" y="565.3" font-size="8.35" text-anchor="middle" textLength="11.59" lengthAdjust="spacingAndGlyphs">0.0</text>
<line x1="267.3" y1="548.5" x2="269.6" y2="548.5" stroke="#2a2a2a" stroke-width="0.9"/>
<text x="265.4" y="551.5" font-size="8.35" text-anchor="end" textLength="11.59" lengthAdjust="spacingAndGlyphs">0.0</text>
<line x1="312.96" y1="554.9" x2="312.96" y2="557.2" stroke="#2a2a2a" stroke-width="0.9"/>
<text x="312.96" y="565.3" font-size="8.35" text-anchor="middle" textLength="11.42" lengthAdjust="spacingAndGlyphs">0.2</text>
<line x1="267.3" y1="522.12" x2="269.6" y2="522.12" stroke="#2a2a2a" stroke-width="0.9"/>
<text x="265.4" y="525.12" font-size="8.35" text-anchor="end" textLength="11.42" lengthAdjust="spacingAndGlyphs">0.2</text>
<line x1="347.62" y1="554.9" x2="347.62" y2="557.2" stroke="#2a2a2a" stroke-width="0.9"/>
<text x="347.62" y="565.3" font-size="8.35" text-anchor="middle" textLength="11.58" lengthAdjust="spacingAndGlyphs">0.4</text>
<line x1="267.3" y1="495.74" x2="269.6" y2="495.74" stroke="#2a2a2a" stroke-width="0.9"/>
<text x="265.4" y="498.74" font-size="8.35" text-anchor="end" textLength="11.58" lengthAdjust="spacingAndGlyphs">0.4</text>
<line x1="382.28" y1="554.9" x2="382.28" y2="557.2" stroke="#2a2a2a" stroke-width="0.9"/>
<text x="382.28" y="565.3" font-size="8.35" text-anchor="middle" textLength="11.66" lengthAdjust="spacingAndGlyphs">0.6</text>
<line x1="267.3" y1="469.36" x2="269.6" y2="469.36" stroke="#2a2a2a" stroke-width="0.9"/>
<text x="265.4" y="472.36" font-size="8.35" text-anchor="end" textLength="11.66" lengthAdjust="spacingAndGlyphs">0.6</text>
<line x1="416.94" y1="554.9" x2="416.94" y2="557.2" stroke="#2a2a2a" stroke-width="0.9"/>
<text x="416.94" y="565.3" font-size="8.35" text-anchor="middle" textLength="11.61" lengthAdjust="spacingAndGlyphs">0.8</text>
<line x1="267.3" y1="442.98" x2="269.6" y2="442.98" stroke="#2a2a2a" stroke-width="0.9"/>
<text x="265.4" y="445.98" font-size="8.35" text-anchor="end" textLength="11.61" lengthAdjust="spacingAndGlyphs">0.8</text>
<line x1="451.6" y1="554.9" x2="451.6" y2="557.2" stroke="#2a2a2a" stroke-width="0.9"/>
<text x="451.6" y="565.3" font-size="8.35" text-anchor="middle" textLength="11.57" lengthAdjust="spacingAndGlyphs">1.0</text>
<line x1="267.3" y1="416.6" x2="269.6" y2="416.6" stroke="#2a2a2a" stroke-width="0.9"/>
<text x="265.4" y="419.6" font-size="8.35" text-anchor="end" textLength="11.57" lengthAdjust="spacingAndGlyphs">1.0</text>
<text x="364.95" y="575.7" font-size="9.93" text-anchor="middle" textLength="82.76" lengthAdjust="spacingAndGlyphs">False Positive Rate</text>
<text x="249.2" y="482.6" font-size="9.93" text-anchor="middle" textLength="79.65" lengthAdjust="spacingAndGlyphs" transform="rotate(-90 249.2 482.6)">True Positive Rate</text>
</g>
<g>
<line x1="502.8" y1="548.5" x2="675.8" y2="416.6" stroke="#777" stroke-width="1.5" stroke-dasharray="4.8 2.1"/>
<polyline points="502.8,548.5 505.82,548.5 505.82,542.23 507.07,542.23 507.07,541.61 508.93,541.61 508.93,540.99 512.65,540.99 512.65,540.36 516.37,540.36 516.37,534.78 516.99,534.78 516.99,529.82 519.47,529.82 519.47,523.61 520.72,523.61 520.72,519.89 521.96,519.89 521.96,514.93 523.2,514.93 523.2,512.45 524.44,512.45 524.44,508.72 525.68,508.72 525.68,507.99 525.68,506.86 526.92,506.86 526.92,506.61 527.08,506.61 527.08,505 528.78,505 528.78,500.37 528.78,496 528.96,496 528.96,495.38 531.45,495.38 531.45,492.26 532.08,492.26 532.08,491.63 536.44,491.63 536.44,485.39 537.69,485.39 537.69,481.02 538.94,481.02 538.94,477.28 539.57,477.28 539.57,476.91 542.69,476.91 542.69,472.91 543.31,472.91 543.31,469.79 543.93,469.79 543.93,468.54 545.18,468.54 545.18,465.42 545.81,465.42 545.81,465.17 551.42,465.17 551.42,462.93 552.05,462.93 552.05,458.56 552.67,458.56 552.67,458.18 575.14,458.18 575.14,450.44 575.76,450.44 575.76,450.2 578.88,450.2 578.88,446.7 580.13,446.7 580.13,446.45 584,446.45 584,446.01 586.96,446.01 586.96,435.34 587.58,435.34 587.58,435.09 606.2,435.09 606.2,431.61 606.82,431.61 606.82,431.36 622.95,431.36 622.95,420.45 623.57,420.45 623.57,420.2 643.42,420.2 643.42,416.6 644.04,416.6 667,416.6 675.8,416.6" fill="none" stroke="#79c0dd" stroke-width="1.05" stroke-linejoin="miter"/>
<polyline points="502.8,548.5 506.45,548.5 506.45,540.99 506.45,540.36 508.31,540.36 508.31,537.26 508.93,537.26 508.93,537.01 515.13,537.01 515.13,529.82 515.75,529.82 515.75,529.2 520.72,529.2 520.72,522.37 521.34,522.37 521.34,518.65 522.58,518.65 522.58,514.31 523.82,514.31 523.82,511.2 525.06,511.2 525.06,507.48 525.68,507.48 528.96,507.48 528.96,506.86 528.96,505.36 529.58,505.36 530.64,505.36 530.64,505 530.64,503.49 530.83,503.49 530.83,502.87 536.44,502.87 536.44,499.75 537.69,499.75 537.69,499.12 540.81,499.12 540.81,495.38 541.44,495.38 541.44,492.26 542.06,492.26 542.06,491.63 543.93,491.63 543.93,487.89 544.56,487.89 544.56,484.77 545.18,484.77 545.18,481.02 545.81,481.02 545.81,476.66 547.05,476.66 547.05,472.91 547.68,472.91 547.68,469.79 548.3,469.79 548.3,469.17 551.42,469.17 551.42,462.93 552.05,462.93 552.05,458.56 552.67,458.56 552.67,457.93 555.79,457.93 555.79,452.94 556.42,452.94 556.42,446.7 557.04,446.7 557.04,446.45 560.16,446.45 560.16,442.96 560.78,442.96 560.78,439.84 561.41,439.84 561.41,439.21 562.66,439.21 562.66,435.47 563.28,435.47 563.28,432.35 563.9,432.35 563.9,431.1 565.15,431.1 565.15,428.6 565.78,428.6 565.78,428.23 578.88,428.23 578.88,424.86 578.88,424.79 582,424.79 584,424.79 602.47,424.79 602.47,420.45 603.09,420.45 603.09,420.2 608.06,420.2 608.06,416.6 608.68,416.6 667,416.6 675.8,416.6" fill="none" stroke="#2bb8c6" stroke-width="1.25" stroke-linejoin="miter"/>
<polyline points="502.8,548.5 502.8,537.26 502.8,533.54 503.96,533.54 503.96,532.92 505.2,532.92 505.2,522.37 505.82,522.37 505.82,521.13 506.45,521.13 506.45,507.99 506.45,505 506.69,505 506.69,492.88 506.69,491.63 507.74,491.63 507.74,484.77 508.36,484.77 508.36,484.15 510.23,484.15 510.23,481.02 510.86,481.02 510.86,471.66 511.48,471.66 511.48,465.42 512.11,465.42 512.11,465.17 513.98,465.17 513.98,462.3 514.6,462.3 514.6,460.43 515.23,460.43 515.23,454.19 516.47,454.19 516.47,446.7 517.1,446.7 517.1,446.45 523.96,446.45 523.96,443.58 525.21,443.58 525.21,439.84 525.84,439.84 525.84,439.21 533.95,439.21 533.95,436.09 535.2,436.09 535.2,435.47 540.81,435.47 540.81,431.72 541.44,431.72 541.44,431.47 552.67,431.47 552.67,429.23 553.3,429.23 553.3,428.23 553.92,428.23 578.88,428.23 578.88,424.86 579.51,424.86 579.51,424.79 582,424.79 584,424.79 591.93,424.79 591.93,424.42 621.71,424.42 621.71,424.17 648.39,424.17 648.39,420.45 649.01,420.45 649.01,420.2 656.45,420.2 656.45,416.6 657.07,416.6 657.69,416.6 667,416.6 675.8,416.6" fill="none" stroke="#ffca68" stroke-width="1.05" stroke-linejoin="miter"/>
<polyline points="502.8,548.5 502.8,507.99 502.8,505 502.8,469.17 502.8,459.18 502.8,457.93 503.99,457.93 503.99,446.7 504.62,446.7 504.62,446.45 505.86,446.45 505.86,446.08 507.74,446.08 507.74,443.58 508.36,443.58 508.36,439.84 508.74,439.84 508.74,439.21 510.23,439.21 510.23,435.47 510.48,435.47 510.48,435.22 521.47,435.22 521.47,431.72 522.09,431.72 522.09,431.47 528.33,431.47 528.33,428.23 528.96,428.23 528.96,428.14 582,428.14 584,428.14 591.93,428.14 591.93,424.79 592.55,424.79 592.55,424.42 620.47,424.42 620.47,420.45 621.09,420.45 621.09,420.2 649.01,420.2 649.01,416.6 649.63,416.6 667,416.6 675.8,416.6" fill="none" stroke="#e6574a" stroke-width="1.05" stroke-linejoin="miter"/>
<rect x="564.1" y="484.1" width="117.1" height="66.8" rx="1.5" fill="#fff" fill-opacity="0.8" stroke="#d8d8d8" stroke-width="0.8"/>
<line x1="566" y1="494" x2="579.7" y2="494" stroke="#2bb8c6" stroke-width="1.6"/>
<text x="584.4" y="492.09" font-size="6.64" textLength="63.81" lengthAdjust="spacingAndGlyphs">TE-LSM, AUC=0.761</text>
<text x="584.4" y="499" font-size="6.64" textLength="67.65" lengthAdjust="spacingAndGlyphs">(95% CI:0.706-0.817)</text>
<line x1="566" y1="510.2" x2="579.7" y2="510.2" stroke="#79c0dd" stroke-width="1.0"/>
<text x="584.4" y="508.29" font-size="6.64" textLength="94.6" lengthAdjust="spacingAndGlyphs">Unimodal clinical, AUC=0.716</text>
<text x="584.4" y="515.2" font-size="6.64" textLength="67.65" lengthAdjust="spacingAndGlyphs">(95% CI:0.642-0.792)</text>
<line x1="566" y1="526.4" x2="579.7" y2="526.4" stroke="#ffca68" stroke-width="1.0"/>
<text x="584.4" y="524.49" font-size="6.64" textLength="92.35" lengthAdjust="spacingAndGlyphs">Unimodal Image, AUC=0.882</text>
<text x="584.4" y="531.4" font-size="6.64" textLength="67.65" lengthAdjust="spacingAndGlyphs">(95% CI:0.802-0.947)</text>
<line x1="566" y1="542.6" x2="579.7" y2="542.6" stroke="#e6574a" stroke-width="1.6"/>
<text x="584.4" y="540.69" font-size="6.64" textLength="59.13" lengthAdjust="spacingAndGlyphs">MAOSS, AUC=0.93</text>
<text x="584.4" y="547.6" font-size="6.64" textLength="67.65" lengthAdjust="spacingAndGlyphs">(95% CI:0.855-0.989)</text>
<rect x="494.2" y="410.3" width="190.3" height="144.6" fill="none" stroke="#4a4a4a" stroke-width="0.8"/>
<line x1="502.8" y1="554.9" x2="502.8" y2="557.2" stroke="#2a2a2a" stroke-width="0.9"/>
<text x="502.8" y="565.3" font-size="8.35" text-anchor="middle" textLength="11.59" lengthAdjust="spacingAndGlyphs">0.0</text>
<line x1="491.9" y1="548.5" x2="494.2" y2="548.5" stroke="#2a2a2a" stroke-width="0.9"/>
<text x="490" y="551.5" font-size="8.35" text-anchor="end" textLength="11.59" lengthAdjust="spacingAndGlyphs">0.0</text>
<line x1="537.4" y1="554.9" x2="537.4" y2="557.2" stroke="#2a2a2a" stroke-width="0.9"/>
<text x="537.4" y="565.3" font-size="8.35" text-anchor="middle" textLength="11.42" lengthAdjust="spacingAndGlyphs">0.2</text>
<line x1="491.9" y1="522.12" x2="494.2" y2="522.12" stroke="#2a2a2a" stroke-width="0.9"/>
<text x="490" y="525.12" font-size="8.35" text-anchor="end" textLength="11.42" lengthAdjust="spacingAndGlyphs">0.2</text>
<line x1="572" y1="554.9" x2="572" y2="557.2" stroke="#2a2a2a" stroke-width="0.9"/>
<text x="572" y="565.3" font-size="8.35" text-anchor="middle" textLength="11.58" lengthAdjust="spacingAndGlyphs">0.4</text>
<line x1="491.9" y1="495.74" x2="494.2" y2="495.74" stroke="#2a2a2a" stroke-width="0.9"/>
<text x="490" y="498.74" font-size="8.35" text-anchor="end" textLength="11.58" lengthAdjust="spacingAndGlyphs">0.4</text>
<line x1="606.6" y1="554.9" x2="606.6" y2="557.2" stroke="#2a2a2a" stroke-width="0.9"/>
<text x="606.6" y="565.3" font-size="8.35" text-anchor="middle" textLength="11.66" lengthAdjust="spacingAndGlyphs">0.6</text>
<line x1="491.9" y1="469.36" x2="494.2" y2="469.36" stroke="#2a2a2a" stroke-width="0.9"/>
<text x="490" y="472.36" font-size="8.35" text-anchor="end" textLength="11.66" lengthAdjust="spacingAndGlyphs">0.6</text>
<line x1="641.2" y1="554.9" x2="641.2" y2="557.2" stroke="#2a2a2a" stroke-width="0.9"/>
<text x="641.2" y="565.3" font-size="8.35" text-anchor="middle" textLength="11.61" lengthAdjust="spacingAndGlyphs">0.8</text>
<line x1="491.9" y1="442.98" x2="494.2" y2="442.98" stroke="#2a2a2a" stroke-width="0.9"/>
<text x="490" y="445.98" font-size="8.35" text-anchor="end" textLength="11.61" lengthAdjust="spacingAndGlyphs">0.8</text>
<line x1="675.8" y1="554.9" x2="675.8" y2="557.2" stroke="#2a2a2a" stroke-width="0.9"/>
<text x="675.8" y="565.3" font-size="8.35" text-anchor="middle" textLength="11.57" lengthAdjust="spacingAndGlyphs">1.0</text>
<line x1="491.9" y1="416.6" x2="494.2" y2="416.6" stroke="#2a2a2a" stroke-width="0.9"/>
<text x="490" y="419.6" font-size="8.35" text-anchor="end" textLength="11.57" lengthAdjust="spacingAndGlyphs">1.0</text>
<text x="589.3" y="575.7" font-size="9.93" text-anchor="middle" textLength="82.76" lengthAdjust="spacingAndGlyphs">False Positive Rate</text>
<text x="473.8" y="482.6" font-size="9.93" text-anchor="middle" textLength="79.65" lengthAdjust="spacingAndGlyphs" transform="rotate(-90 473.8 482.6)">True Positive Rate</text>
</g>
<g>
<defs><clipPath id="clip_b1"><rect x="46.3" y="212.4" width="187.3" height="143.9"/></clipPath></defs>
<g clip-path="url(#clip_b1)">
<rect x="54.9" y="343.54" width="11.3" height="14.76" fill="#38bec7" stroke="#333" stroke-width="0.75"/>
<rect x="66.2" y="305.98" width="11.3" height="52.32" fill="#8fc9de" stroke="#333" stroke-width="0.75"/>
<rect x="77.5" y="267.14" width="11.3" height="91.16" fill="#fdd98c" stroke="#333" stroke-width="0.75"/>
<rect x="88.8" y="295.32" width="11.3" height="62.98" fill="#ec8178" stroke="#333" stroke-width="0.75"/>
<rect x="117.4" y="292.27" width="11.3" height="66.03" fill="#38bec7" stroke="#333" stroke-width="0.75"/>
<rect x="128.7" y="271.21" width="11.3" height="87.09" fill="#8fc9de" stroke="#333" stroke-width="0.75"/>
<rect x="140" y="289.73" width="11.3" height="68.57" fill="#fdd98c" stroke="#333" stroke-width="0.75"/>
<rect x="151.3" y="235.42" width="11.3" height="122.88" fill="#ec8178" stroke="#333" stroke-width="0.75"/>
<rect x="179.9" y="318.41" width="11.3" height="39.89" fill="#38bec7" stroke="#333" stroke-width="0.75"/>
<rect x="191.2" y="288.46" width="11.3" height="69.84" fill="#8fc9de" stroke="#333" stroke-width="0.75"/>
<rect x="202.5" y="278.31" width="11.3" height="79.99" fill="#fdd98c" stroke="#333" stroke-width="0.75"/>
<rect x="213.8" y="264.61" width="11.3" height="93.69" fill="#ec8178" stroke="#333" stroke-width="0.75"/>
<text x="62.85" y="354" font-size="9.92" textLength="19.46" lengthAdjust="spacingAndGlyphs" transform="rotate(-90 62.85 354)">50.3</text>
<text x="74.15" y="354" font-size="9.92" textLength="19.58" lengthAdjust="spacingAndGlyphs" transform="rotate(-90 74.15 354)">65.1</text>
<text x="85.45" y="354" font-size="9.92" textLength="19.66" lengthAdjust="spacingAndGlyphs" transform="rotate(-90 85.45 354)">80.4</text>
<text x="96.75" y="354" font-size="9.92" textLength="19.65" lengthAdjust="spacingAndGlyphs" transform="rotate(-90 96.75 354)">69.3</text>
<text x="125.35" y="354" font-size="9.92" textLength="19.45" lengthAdjust="spacingAndGlyphs" transform="rotate(-90 125.35 354)">70.5</text>
<text x="136.65" y="354" font-size="9.92" textLength="19.64" lengthAdjust="spacingAndGlyphs" transform="rotate(-90 136.65 354)">78.8</text>
<text x="147.95" y="354" font-size="9.92" textLength="19.45" lengthAdjust="spacingAndGlyphs" transform="rotate(-90 147.95 354)">71.5</text>
<text x="159.25" y="354" font-size="9.92" textLength="19.8" lengthAdjust="spacingAndGlyphs" transform="rotate(-90 159.25 354)">92.9</text>
<text x="187.85" y="354" font-size="9.92" textLength="19.52" lengthAdjust="spacingAndGlyphs" transform="rotate(-90 187.85 354)">60.2</text>
<text x="199.15" y="354" font-size="9.92" textLength="19.61" lengthAdjust="spacingAndGlyphs" transform="rotate(-90 199.15 354)">72.0</text>
<text x="210.45" y="354" font-size="9.92" textLength="19.61" lengthAdjust="spacingAndGlyphs" transform="rotate(-90 210.45 354)">76.0</text>
<text x="221.75" y="354" font-size="9.92" textLength="19.66" lengthAdjust="spacingAndGlyphs" transform="rotate(-90 221.75 354)">81.4</text>
<line x1="60.55" y1="310.54" x2="60.55" y2="377.29" stroke="#8a8a8a" stroke-width="0.9"/>
<circle cx="60.55" cy="310.54" r="1.75" fill="#0000ff"/>
<circle cx="60.55" cy="377.29" r="1.75" fill="#ff0000"/>
<circle cx="60.55" cy="343.54" r="1.75" fill="#000"/>
<line x1="71.85" y1="280.34" x2="71.85" y2="332.37" stroke="#8a8a8a" stroke-width="0.9"/>
<circle cx="71.85" cy="280.34" r="1.75" fill="#0000ff"/>
<circle cx="71.85" cy="332.37" r="1.75" fill="#ff0000"/>
<circle cx="71.85" cy="305.98" r="1.75" fill="#000"/>
<line x1="83.15" y1="246.33" x2="83.15" y2="289.73" stroke="#8a8a8a" stroke-width="0.9"/>
<circle cx="83.15" cy="246.33" r="1.75" fill="#0000ff"/>
<circle cx="83.15" cy="289.73" r="1.75" fill="#ff0000"/>
<circle cx="83.15" cy="267.14" r="1.75" fill="#000"/>
<line x1="94.45" y1="271.97" x2="94.45" y2="319.68" stroke="#8a8a8a" stroke-width="0.9"/>
<circle cx="94.45" cy="271.97" r="1.75" fill="#0000ff"/>
<circle cx="94.45" cy="319.68" r="1.75" fill="#ff0000"/>
<circle cx="94.45" cy="295.32" r="1.75" fill="#000"/>
<line x1="123.05" y1="272.22" x2="123.05" y2="312.83" stroke="#8a8a8a" stroke-width="0.9"/>
<circle cx="123.05" cy="272.22" r="1.75" fill="#0000ff"/>
<circle cx="123.05" cy="312.83" r="1.75" fill="#ff0000"/>
<circle cx="123.05" cy="292.27" r="1.75" fill="#000"/>
<line x1="134.35" y1="249.89" x2="134.35" y2="290.49" stroke="#8a8a8a" stroke-width="0.9"/>
<circle cx="134.35" cy="249.89" r="1.75" fill="#0000ff"/>
<circle cx="134.35" cy="290.49" r="1.75" fill="#ff0000"/>
<circle cx="134.35" cy="271.21" r="1.75" fill="#000"/>
<line x1="145.65" y1="267.65" x2="145.65" y2="313.84" stroke="#8a8a8a" stroke-width="0.9"/>
<circle cx="145.65" cy="267.65" r="1.75" fill="#0000ff"/>
<circle cx="145.65" cy="313.84" r="1.75" fill="#ff0000"/>
<circle cx="145.65" cy="289.73" r="1.75" fill="#000"/>
<line x1="156.95" y1="222.22" x2="156.95" y2="248.36" stroke="#8a8a8a" stroke-width="0.9"/>
<circle cx="156.95" cy="222.22" r="1.75" fill="#0000ff"/>
<circle cx="156.95" cy="248.36" r="1.75" fill="#ff0000"/>
<circle cx="156.95" cy="235.42" r="1.75" fill="#000"/>
<line x1="185.55" y1="298.62" x2="185.55" y2="337.7" stroke="#8a8a8a" stroke-width="0.9"/>
<circle cx="185.55" cy="298.62" r="1.75" fill="#0000ff"/>
<circle cx="185.55" cy="337.7" r="1.75" fill="#ff0000"/>
<circle cx="185.55" cy="318.41" r="1.75" fill="#000"/>
<line x1="196.85" y1="272.98" x2="196.85" y2="304.96" stroke="#8a8a8a" stroke-width="0.9"/>
<circle cx="196.85" cy="272.98" r="1.75" fill="#0000ff"/>
<circle cx="196.85" cy="304.96" r="1.75" fill="#ff0000"/>
<circle cx="196.85" cy="288.46" r="1.75" fill="#000"/>
<line x1="208.15" y1="262.58" x2="208.15" y2="295.06" stroke="#8a8a8a" stroke-width="0.9"/>
<circle cx="208.15" cy="262.58" r="1.75" fill="#0000ff"/>
<circle cx="208.15" cy="295.06" r="1.75" fill="#ff0000"/>
<circle cx="208.15" cy="278.31" r="1.75" fill="#000"/>
<line x1="219.45" y1="251.41" x2="219.45" y2="277.8" stroke="#8a8a8a" stroke-width="0.9"/>
<circle cx="219.45" cy="251.41" r="1.75" fill="#0000ff"/>
<circle cx="219.45" cy="277.8" r="1.75" fill="#ff0000"/>
<circle cx="219.45" cy="264.61" r="1.75" fill="#000"/>
</g>
<rect x="49.2" y="215.5" width="68.5" height="52.7" rx="1.2" fill="#fff" fill-opacity="0.8" stroke="#d8d8d8" stroke-width="0.7"/>
<circle cx="56.4" cy="219.2" r="1.6" fill="#000"/>
<text x="65.1" y="221.1" font-size="5.32" fill="#222" textLength="14.23" lengthAdjust="spacingAndGlyphs">mean</text>
<circle cx="56.4" cy="226.58" r="1.6" fill="#0000ff"/>
<text x="65.1" y="228.48" font-size="5.32" fill="#222" textLength="50.19" lengthAdjust="spacingAndGlyphs">95%CI upper bound</text>
<circle cx="56.4" cy="233.96" r="1.6" fill="#ff0000"/>
<text x="65.1" y="235.86" font-size="5.32" fill="#222" textLength="49.2" lengthAdjust="spacingAndGlyphs">95%CI lower bound</text>
<rect x="51.4" y="239.14" width="10.2" height="4.4" fill="#38bec7" stroke="#333" stroke-width="0.6"/>
<text x="65.1" y="243.24" font-size="5.32" fill="#222" textLength="18.6" lengthAdjust="spacingAndGlyphs">TE-LSM</text>
<rect x="51.4" y="246.52" width="10.2" height="4.4" fill="#8fc9de" stroke="#333" stroke-width="0.6"/>
<text x="65.1" y="250.62" font-size="5.32" fill="#222" textLength="43.9" lengthAdjust="spacingAndGlyphs">Unimodal Clinical</text>
<rect x="51.4" y="253.9" width="10.2" height="4.4" fill="#fdd98c" stroke="#333" stroke-width="0.6"/>
<text x="65.1" y="258" font-size="5.32" fill="#222" textLength="41.58" lengthAdjust="spacingAndGlyphs">Unimodal Image</text>
<rect x="51.4" y="261.28" width="10.2" height="4.4" fill="#ec8178" stroke="#333" stroke-width="0.6"/>
<text x="65.1" y="265.38" font-size="5.32" fill="#222" textLength="18.04" lengthAdjust="spacingAndGlyphs">MAOSS</text>
<rect x="46.3" y="212.4" width="187.3" height="143.9" fill="none" stroke="#4a4a4a" stroke-width="0.8"/>
<line x1="44" y1="344.3" x2="46.3" y2="344.3" stroke="#2a2a2a" stroke-width="0.9"/>
<text x="42.1" y="347.3" font-size="8.35" text-anchor="end" textLength="9.12" lengthAdjust="spacingAndGlyphs">50</text>
<line x1="44" y1="318.92" x2="46.3" y2="318.92" stroke="#2a2a2a" stroke-width="0.9"/>
<text x="42.1" y="321.92" font-size="8.35" text-anchor="end" textLength="9.27" lengthAdjust="spacingAndGlyphs">60</text>
<line x1="44" y1="293.54" x2="46.3" y2="293.54" stroke="#2a2a2a" stroke-width="0.9"/>
<text x="42.1" y="296.54" font-size="8.35" text-anchor="end" textLength="9.18" lengthAdjust="spacingAndGlyphs">70</text>
<line x1="44" y1="268.16" x2="46.3" y2="268.16" stroke="#2a2a2a" stroke-width="0.9"/>
<text x="42.1" y="271.16" font-size="8.35" text-anchor="end" textLength="9.22" lengthAdjust="spacingAndGlyphs">80</text>
<line x1="44" y1="242.78" x2="46.3" y2="242.78" stroke="#2a2a2a" stroke-width="0.9"/>
<text x="42.1" y="245.78" font-size="8.35" text-anchor="end" textLength="9.29" lengthAdjust="spacingAndGlyphs">90</text>
<line x1="44" y1="217.4" x2="46.3" y2="217.4" stroke="#2a2a2a" stroke-width="0.9"/>
<text x="42.1" y="220.4" font-size="8.35" text-anchor="end" textLength="13.96" lengthAdjust="spacingAndGlyphs">100</text>
<line x1="77.5" y1="356.3" x2="77.5" y2="358.6" stroke="#2a2a2a" stroke-width="0.9"/>
<text x="77.5" y="367.1" font-size="8.44" text-anchor="middle" textLength="39.15" lengthAdjust="spacingAndGlyphs">Sensitivity</text>
<line x1="140" y1="356.3" x2="140" y2="358.6" stroke="#2a2a2a" stroke-width="0.9"/>
<text x="140" y="367.1" font-size="8.44" text-anchor="middle" textLength="38.75" lengthAdjust="spacingAndGlyphs">Specificity</text>
<line x1="202.5" y1="356.3" x2="202.5" y2="358.6" stroke="#2a2a2a" stroke-width="0.9"/>
<text x="202.5" y="367.1" font-size="8.44" text-anchor="middle" textLength="20.57" lengthAdjust="spacingAndGlyphs">BACC</text>
<text x="139.95" y="377.7" font-size="9.93" text-anchor="middle" textLength="91.6" lengthAdjust="spacingAndGlyphs">Performance Metrics</text>
<text x="24.3" y="284.35" font-size="9.93" text-anchor="middle" textLength="47.23" lengthAdjust="spacingAndGlyphs" transform="rotate(-90 24.3 284.35)">Values (%)</text>
</g>
<g>
<defs><clipPath id="clip_b2"><rect x="270.4" y="212.4" width="187.2" height="143.9"/></clipPath></defs>
<g clip-path="url(#clip_b2)">
<rect x="278.9" y="337.45" width="11.3" height="20.85" fill="#38bec7" stroke="#333" stroke-width="0.75"/>
<rect x="290.2" y="297.6" width="11.3" height="60.7" fill="#8fc9de" stroke="#333" stroke-width="0.75"/>
<rect x="301.5" y="245.32" width="11.3" height="112.98" fill="#fdd98c" stroke="#333" stroke-width="0.75"/>
<rect x="312.8" y="266.64" width="11.3" height="91.66" fill="#ec8178" stroke="#333" stroke-width="0.75"/>
<rect x="341.4" y="281.61" width="11.3" height="76.69" fill="#38bec7" stroke="#333" stroke-width="0.75"/>
<rect x="352.7" y="280.09" width="11.3" height="78.21" fill="#8fc9de" stroke="#333" stroke-width="0.75"/>
<rect x="364" y="298.11" width="11.3" height="60.19" fill="#fdd98c" stroke="#333" stroke-width="0.75"/>
<rect x="375.3" y="243.03" width="11.3" height="115.27" fill="#ec8178" stroke="#333" stroke-width="0.75"/>
<rect x="403.9" y="309.02" width="11.3" height="49.28" fill="#38bec7" stroke="#333" stroke-width="0.75"/>
<rect x="415.2" y="288.46" width="11.3" height="69.84" fill="#8fc9de" stroke="#333" stroke-width="0.75"/>
<rect x="426.5" y="272.22" width="11.3" height="86.08" fill="#fdd98c" stroke="#333" stroke-width="0.75"/>
<rect x="437.8" y="254.45" width="11.3" height="103.85" fill="#ec8178" stroke="#333" stroke-width="0.75"/>
<text x="286.85" y="354" font-size="9.92" textLength="19.48" lengthAdjust="spacingAndGlyphs" transform="rotate(-90 286.85 354)">52.7</text>
<text x="298.15" y="354" font-size="9.92" textLength="19.72" lengthAdjust="spacingAndGlyphs" transform="rotate(-90 298.15 354)">68.4</text>
<text x="309.45" y="354" font-size="9.92" textLength="19.67" lengthAdjust="spacingAndGlyphs" transform="rotate(-90 309.45 354)">89.0</text>
<text x="320.75" y="354" font-size="9.92" textLength="19.75" lengthAdjust="spacingAndGlyphs" transform="rotate(-90 320.75 354)">80.6</text>
<text x="349.35" y="354" font-size="9.92" textLength="19.55" lengthAdjust="spacingAndGlyphs" transform="rotate(-90 349.35 354)">74.7</text>
<text x="360.65" y="354" font-size="9.92" textLength="19.54" lengthAdjust="spacingAndGlyphs" transform="rotate(-90 360.65 354)">75.3</text>
<text x="371.95" y="354" font-size="9.92" textLength="19.52" lengthAdjust="spacingAndGlyphs" transform="rotate(-90 371.95 354)">68.2</text>
<text x="383.25" y="354" font-size="9.92" textLength="19.72" lengthAdjust="spacingAndGlyphs" transform="rotate(-90 383.25 354)">89.9</text>
<text x="411.85" y="354" font-size="9.92" textLength="19.78" lengthAdjust="spacingAndGlyphs" transform="rotate(-90 411.85 354)">63.9</text>
<text x="423.15" y="354" font-size="9.92" textLength="19.61" lengthAdjust="spacingAndGlyphs" transform="rotate(-90 423.15 354)">72.0</text>
<text x="434.45" y="354" font-size="9.92" textLength="19.61" lengthAdjust="spacingAndGlyphs" transform="rotate(-90 434.45 354)">78.4</text>
<text x="445.75" y="354" font-size="9.92" textLength="19.66" lengthAdjust="spacingAndGlyphs" transform="rotate(-90 445.75 354)">85.4</text>
<line x1="284.55" y1="309.78" x2="284.55" y2="369.68" stroke="#8a8a8a" stroke-width="0.9"/>
<circle cx="284.55" cy="309.78" r="1.75" fill="#0000ff"/>
<circle cx="284.55" cy="369.68" r="1.75" fill="#ff0000"/>
<circle cx="284.55" cy="337.45" r="1.75" fill="#000"/>
<line x1="295.85" y1="271.71" x2="295.85" y2="326.53" stroke="#8a8a8a" stroke-width="0.9"/>
<circle cx="295.85" cy="271.71" r="1.75" fill="#0000ff"/>
<circle cx="295.85" cy="326.53" r="1.75" fill="#ff0000"/>
<circle cx="295.85" cy="297.6" r="1.75" fill="#000"/>
<line x1="307.15" y1="227.81" x2="307.15" y2="265.62" stroke="#8a8a8a" stroke-width="0.9"/>
<circle cx="307.15" cy="227.81" r="1.75" fill="#0000ff"/>
<circle cx="307.15" cy="265.62" r="1.75" fill="#ff0000"/>
<circle cx="307.15" cy="245.32" r="1.75" fill="#000"/>
<line x1="318.45" y1="244.05" x2="318.45" y2="291.26" stroke="#8a8a8a" stroke-width="0.9"/>
<circle cx="318.45" cy="244.05" r="1.75" fill="#0000ff"/>
<circle cx="318.45" cy="291.26" r="1.75" fill="#ff0000"/>
<circle cx="318.45" cy="266.64" r="1.75" fill="#000"/>
<line x1="347.05" y1="262.83" x2="347.05" y2="302.17" stroke="#8a8a8a" stroke-width="0.9"/>
<circle cx="347.05" cy="262.83" r="1.75" fill="#0000ff"/>
<circle cx="347.05" cy="302.17" r="1.75" fill="#ff0000"/>
<circle cx="347.05" cy="281.61" r="1.75" fill="#000"/>
<line x1="358.35" y1="260.55" x2="358.35" y2="300.14" stroke="#8a8a8a" stroke-width="0.9"/>
<circle cx="358.35" cy="260.55" r="1.75" fill="#0000ff"/>
<circle cx="358.35" cy="300.14" r="1.75" fill="#ff0000"/>
<circle cx="358.35" cy="280.09" r="1.75" fill="#000"/>
<line x1="369.65" y1="277.04" x2="369.65" y2="320.44" stroke="#8a8a8a" stroke-width="0.9"/>
<circle cx="369.65" cy="277.04" r="1.75" fill="#0000ff"/>
<circle cx="369.65" cy="320.44" r="1.75" fill="#ff0000"/>
<circle cx="369.65" cy="298.11" r="1.75" fill="#000"/>
<line x1="380.95" y1="229.58" x2="380.95" y2="256.99" stroke="#8a8a8a" stroke-width="0.9"/>
<circle cx="380.95" cy="229.58" r="1.75" fill="#0000ff"/>
<circle cx="380.95" cy="256.99" r="1.75" fill="#ff0000"/>
<circle cx="380.95" cy="243.03" r="1.75" fill="#000"/>
<line x1="409.55" y1="291.51" x2="409.55" y2="326.53" stroke="#8a8a8a" stroke-width="0.9"/>
<circle cx="409.55" cy="291.51" r="1.75" fill="#0000ff"/>
<circle cx="409.55" cy="326.53" r="1.75" fill="#ff0000"/>
<circle cx="409.55" cy="309.02" r="1.75" fill="#000"/>
<line x1="420.85" y1="271.46" x2="420.85" y2="305.47" stroke="#8a8a8a" stroke-width="0.9"/>
<circle cx="420.85" cy="271.46" r="1.75" fill="#0000ff"/>
<circle cx="420.85" cy="305.47" r="1.75" fill="#ff0000"/>
<circle cx="420.85" cy="288.46" r="1.75" fill="#000"/>
<line x1="432.15" y1="258.26" x2="432.15" y2="286.69" stroke="#8a8a8a" stroke-width="0.9"/>
<circle cx="432.15" cy="258.26" r="1.75" fill="#0000ff"/>
<circle cx="432.15" cy="286.69" r="1.75" fill="#ff0000"/>
<circle cx="432.15" cy="272.22" r="1.75" fill="#000"/>
<line x1="443.45" y1="241" x2="443.45" y2="267.91" stroke="#8a8a8a" stroke-width="0.9"/>
<circle cx="443.45" cy="241" r="1.75" fill="#0000ff"/>
<circle cx="443.45" cy="267.91" r="1.75" fill="#ff0000"/>
<circle cx="443.45" cy="254.45" r="1.75" fill="#000"/>
</g>
<rect x="270.4" y="212.4" width="187.2" height="143.9" fill="none" stroke="#4a4a4a" stroke-width="0.8"/>
<line x1="268.1" y1="344.3" x2="270.4" y2="344.3" stroke="#2a2a2a" stroke-width="0.9"/>
<text x="266.2" y="347.3" font-size="8.35" text-anchor="end" textLength="9.12" lengthAdjust="spacingAndGlyphs">50</text>
<line x1="268.1" y1="318.92" x2="270.4" y2="318.92" stroke="#2a2a2a" stroke-width="0.9"/>
<text x="266.2" y="321.92" font-size="8.35" text-anchor="end" textLength="9.27" lengthAdjust="spacingAndGlyphs">60</text>
<line x1="268.1" y1="293.54" x2="270.4" y2="293.54" stroke="#2a2a2a" stroke-width="0.9"/>
<text x="266.2" y="296.54" font-size="8.35" text-anchor="end" textLength="9.18" lengthAdjust="spacingAndGlyphs">70</text>
<line x1="268.1" y1="268.16" x2="270.4" y2="268.16" stroke="#2a2a2a" stroke-width="0.9"/>
<text x="266.2" y="271.16" font-size="8.35" text-anchor="end" textLength="9.22" lengthAdjust="spacingAndGlyphs">80</text>
<line x1="268.1" y1="242.78" x2="270.4" y2="242.78" stroke="#2a2a2a" stroke-width="0.9"/>
<text x="266.2" y="245.78" font-size="8.35" text-anchor="end" textLength="9.29" lengthAdjust="spacingAndGlyphs">90</text>
<line x1="268.1" y1="217.4" x2="270.4" y2="217.4" stroke="#2a2a2a" stroke-width="0.9"/>
<text x="266.2" y="220.4" font-size="8.35" text-anchor="end" textLength="13.96" lengthAdjust="spacingAndGlyphs">100</text>
<line x1="301.5" y1="356.3" x2="301.5" y2="358.6" stroke="#2a2a2a" stroke-width="0.9"/>
<text x="301.5" y="367.1" font-size="8.44" text-anchor="middle" textLength="39.15" lengthAdjust="spacingAndGlyphs">Sensitivity</text>
<line x1="364" y1="356.3" x2="364" y2="358.6" stroke="#2a2a2a" stroke-width="0.9"/>
<text x="364" y="367.1" font-size="8.44" text-anchor="middle" textLength="38.75" lengthAdjust="spacingAndGlyphs">Specificity</text>
<line x1="426.5" y1="356.3" x2="426.5" y2="358.6" stroke="#2a2a2a" stroke-width="0.9"/>
<text x="426.5" y="367.1" font-size="8.44" text-anchor="middle" textLength="20.57" lengthAdjust="spacingAndGlyphs">BACC</text>
<text x="364" y="377.7" font-size="9.93" text-anchor="middle" textLength="91.6" lengthAdjust="spacingAndGlyphs">Performance Metrics</text>
<text x="248.4" y="284.35" font-size="9.93" text-anchor="middle" textLength="47.23" lengthAdjust="spacingAndGlyphs" transform="rotate(-90 248.4 284.35)">Values (%)</text>
</g>
<g>
<defs><clipPath id="clip_b3"><rect x="494.4" y="212.4" width="187.2" height="143.9"/></clipPath></defs>
<g clip-path="url(#clip_b3)">
<rect x="502.9" y="338.72" width="11.3" height="19.58" fill="#38bec7" stroke="#333" stroke-width="0.75"/>
<rect x="514.2" y="276.03" width="11.3" height="82.27" fill="#8fc9de" stroke="#333" stroke-width="0.75"/>
<rect x="525.5" y="280.34" width="11.3" height="77.96" fill="#fdd98c" stroke="#333" stroke-width="0.75"/>
<rect x="536.8" y="258.01" width="11.3" height="100.29" fill="#ec8178" stroke="#333" stroke-width="0.75"/>
<rect x="565.4" y="268.41" width="11.3" height="89.89" fill="#38bec7" stroke="#333" stroke-width="0.75"/>
<rect x="576.7" y="307.5" width="11.3" height="50.8" fill="#8fc9de" stroke="#333" stroke-width="0.75"/>
<rect x="588" y="254.96" width="11.3" height="103.34" fill="#fdd98c" stroke="#333" stroke-width="0.75"/>
<rect x="599.3" y="243.54" width="11.3" height="114.76" fill="#ec8178" stroke="#333" stroke-width="0.75"/>
<rect x="627.9" y="303.69" width="11.3" height="54.61" fill="#38bec7" stroke="#333" stroke-width="0.75"/>
<rect x="639.2" y="292.02" width="11.3" height="66.28" fill="#8fc9de" stroke="#333" stroke-width="0.75"/>
<rect x="650.5" y="268.41" width="11.3" height="89.89" fill="#fdd98c" stroke="#333" stroke-width="0.75"/>
<rect x="661.8" y="250.9" width="11.3" height="107.4" fill="#ec8178" stroke="#333" stroke-width="0.75"/>
<text x="510.85" y="354" font-size="9.92" textLength="19.34" lengthAdjust="spacingAndGlyphs" transform="rotate(-90 510.85 354)">52.2</text>
<text x="522.15" y="354" font-size="9.92" textLength="19.66" lengthAdjust="spacingAndGlyphs" transform="rotate(-90 522.15 354)">76.9</text>
<text x="533.45" y="354" font-size="9.92" textLength="19.41" lengthAdjust="spacingAndGlyphs" transform="rotate(-90 533.45 354)">75.2</text>
<text x="544.75" y="354" font-size="9.92" textLength="19.67" lengthAdjust="spacingAndGlyphs" transform="rotate(-90 544.75 354)">84.0</text>
<text x="573.35" y="354" font-size="9.92" textLength="19.66" lengthAdjust="spacingAndGlyphs" transform="rotate(-90 573.35 354)">79.9</text>
<text x="584.65" y="354" font-size="9.92" textLength="19.56" lengthAdjust="spacingAndGlyphs" transform="rotate(-90 584.65 354)">64.5</text>
<text x="595.95" y="354" font-size="9.92" textLength="19.46" lengthAdjust="spacingAndGlyphs" transform="rotate(-90 595.95 354)">85.2</text>
<text x="607.25" y="354" font-size="9.92" textLength="19.6" lengthAdjust="spacingAndGlyphs" transform="rotate(-90 607.25 354)">89.7</text>
<text x="635.85" y="354" font-size="9.92" textLength="19.72" lengthAdjust="spacingAndGlyphs" transform="rotate(-90 635.85 354)">66.0</text>
<text x="647.15" y="354" font-size="9.92" textLength="19.7" lengthAdjust="spacingAndGlyphs" transform="rotate(-90 647.15 354)">70.6</text>
<text x="658.45" y="354" font-size="9.92" textLength="19.66" lengthAdjust="spacingAndGlyphs" transform="rotate(-90 658.45 354)">79.9</text>
<text x="669.75" y="354" font-size="9.92" textLength="19.69" lengthAdjust="spacingAndGlyphs" transform="rotate(-90 669.75 354)">86.8</text>
<line x1="508.55" y1="311.81" x2="508.55" y2="369.68" stroke="#8a8a8a" stroke-width="0.9"/>
<circle cx="508.55" cy="311.81" r="1.75" fill="#0000ff"/>
<circle cx="508.55" cy="369.68" r="1.75" fill="#ff0000"/>
<circle cx="508.55" cy="338.72" r="1.75" fill="#000"/>
<line x1="519.85" y1="247.6" x2="519.85" y2="304.71" stroke="#8a8a8a" stroke-width="0.9"/>
<circle cx="519.85" cy="247.6" r="1.75" fill="#0000ff"/>
<circle cx="519.85" cy="304.71" r="1.75" fill="#ff0000"/>
<circle cx="519.85" cy="276.03" r="1.75" fill="#000"/>
<line x1="531.15" y1="251.41" x2="531.15" y2="309.53" stroke="#8a8a8a" stroke-width="0.9"/>
<circle cx="531.15" cy="251.41" r="1.75" fill="#0000ff"/>
<circle cx="531.15" cy="309.53" r="1.75" fill="#ff0000"/>
<circle cx="531.15" cy="280.34" r="1.75" fill="#000"/>
<line x1="542.45" y1="234.15" x2="542.45" y2="284.15" stroke="#8a8a8a" stroke-width="0.9"/>
<circle cx="542.45" cy="234.15" r="1.75" fill="#0000ff"/>
<circle cx="542.45" cy="284.15" r="1.75" fill="#ff0000"/>
<circle cx="542.45" cy="258.01" r="1.75" fill="#000"/>
<line x1="571.05" y1="248.36" x2="571.05" y2="289.23" stroke="#8a8a8a" stroke-width="0.9"/>
<circle cx="571.05" cy="248.36" r="1.75" fill="#0000ff"/>
<circle cx="571.05" cy="289.23" r="1.75" fill="#ff0000"/>
<circle cx="571.05" cy="268.41" r="1.75" fill="#000"/>
<line x1="582.35" y1="287.7" x2="582.35" y2="327.55" stroke="#8a8a8a" stroke-width="0.9"/>
<circle cx="582.35" cy="287.7" r="1.75" fill="#0000ff"/>
<circle cx="582.35" cy="327.55" r="1.75" fill="#ff0000"/>
<circle cx="582.35" cy="307.5" r="1.75" fill="#000"/>
<line x1="593.65" y1="239.73" x2="593.65" y2="269.68" stroke="#8a8a8a" stroke-width="0.9"/>
<circle cx="593.65" cy="239.73" r="1.75" fill="#0000ff"/>
<circle cx="593.65" cy="269.68" r="1.75" fill="#ff0000"/>
<circle cx="593.65" cy="254.96" r="1.75" fill="#000"/>
<line x1="604.95" y1="231.61" x2="604.95" y2="258.01" stroke="#8a8a8a" stroke-width="0.9"/>
<circle cx="604.95" cy="231.61" r="1.75" fill="#0000ff"/>
<circle cx="604.95" cy="258.01" r="1.75" fill="#ff0000"/>
<circle cx="604.95" cy="243.54" r="1.75" fill="#000"/>
<line x1="633.55" y1="287.7" x2="633.55" y2="321.71" stroke="#8a8a8a" stroke-width="0.9"/>
<circle cx="633.55" cy="287.7" r="1.75" fill="#0000ff"/>
<circle cx="633.55" cy="321.71" r="1.75" fill="#ff0000"/>
<circle cx="633.55" cy="303.69" r="1.75" fill="#000"/>
<line x1="644.85" y1="274.76" x2="644.85" y2="309.28" stroke="#8a8a8a" stroke-width="0.9"/>
<circle cx="644.85" cy="274.76" r="1.75" fill="#0000ff"/>
<circle cx="644.85" cy="309.28" r="1.75" fill="#ff0000"/>
<circle cx="644.85" cy="292.02" r="1.75" fill="#000"/>
<line x1="656.15" y1="252.93" x2="656.15" y2="284.91" stroke="#8a8a8a" stroke-width="0.9"/>
<circle cx="656.15" cy="252.93" r="1.75" fill="#0000ff"/>
<circle cx="656.15" cy="284.91" r="1.75" fill="#ff0000"/>
<circle cx="656.15" cy="268.41" r="1.75" fill="#000"/>
<line x1="667.45" y1="237.96" x2="667.45" y2="264.1" stroke="#8a8a8a" stroke-width="0.9"/>
<circle cx="667.45" cy="237.96" r="1.75" fill="#0000ff"/>
<circle cx="667.45" cy="264.1" r="1.75" fill="#ff0000"/>
<circle cx="667.45" cy="250.9" r="1.75" fill="#000"/>
</g>
<rect x="494.4" y="212.4" width="187.2" height="143.9" fill="none" stroke="#4a4a4a" stroke-width="0.8"/>
<line x1="492.1" y1="344.3" x2="494.4" y2="344.3" stroke="#2a2a2a" stroke-width="0.9"/>
<text x="490.2" y="347.3" font-size="8.35" text-anchor="end" textLength="9.12" lengthAdjust="spacingAndGlyphs">50</text>
<line x1="492.1" y1="318.92" x2="494.4" y2="318.92" stroke="#2a2a2a" stroke-width="0.9"/>
<text x="490.2" y="321.92" font-size="8.35" text-anchor="end" textLength="9.27" lengthAdjust="spacingAndGlyphs">60</text>
<line x1="492.1" y1="293.54" x2="494.4" y2="293.54" stroke="#2a2a2a" stroke-width="0.9"/>
<text x="490.2" y="296.54" font-size="8.35" text-anchor="end" textLength="9.18" lengthAdjust="spacingAndGlyphs">70</text>
<line x1="492.1" y1="268.16" x2="494.4" y2="268.16" stroke="#2a2a2a" stroke-width="0.9"/>
<text x="490.2" y="271.16" font-size="8.35" text-anchor="end" textLength="9.22" lengthAdjust="spacingAndGlyphs">80</text>
<line x1="492.1" y1="242.78" x2="494.4" y2="242.78" stroke="#2a2a2a" stroke-width="0.9"/>
<text x="490.2" y="245.78" font-size="8.35" text-anchor="end" textLength="9.29" lengthAdjust="spacingAndGlyphs">90</text>
<line x1="492.1" y1="217.4" x2="494.4" y2="217.4" stroke="#2a2a2a" stroke-width="0.9"/>
<text x="490.2" y="220.4" font-size="8.35" text-anchor="end" textLength="13.96" lengthAdjust="spacingAndGlyphs">100</text>
<line x1="525.5" y1="356.3" x2="525.5" y2="358.6" stroke="#2a2a2a" stroke-width="0.9"/>
<text x="525.5" y="367.1" font-size="8.44" text-anchor="middle" textLength="39.15" lengthAdjust="spacingAndGlyphs">Sensitivity</text>
<line x1="588" y1="356.3" x2="588" y2="358.6" stroke="#2a2a2a" stroke-width="0.9"/>
<text x="588" y="367.1" font-size="8.44" text-anchor="middle" textLength="38.75" lengthAdjust="spacingAndGlyphs">Specificity</text>
<line x1="650.5" y1="356.3" x2="650.5" y2="358.6" stroke="#2a2a2a" stroke-width="0.9"/>
<text x="650.5" y="367.1" font-size="8.44" text-anchor="middle" textLength="20.57" lengthAdjust="spacingAndGlyphs">BACC</text>
<text x="588" y="377.7" font-size="9.93" text-anchor="middle" textLength="91.6" lengthAdjust="spacingAndGlyphs">Performance Metrics</text>
<text x="472.4" y="284.35" font-size="9.93" text-anchor="middle" textLength="47.23" lengthAdjust="spacingAndGlyphs" transform="rotate(-90 472.4 284.35)">Values (%)</text>
</g>
<g>
<defs><clipPath id="clip_d1"><rect x="43.5" y="594.7" width="189.4" height="144.7"/></clipPath></defs>
<g clip-path="url(#clip_d1)">
<rect x="52.3" y="700.09" width="11.35" height="41.31" fill="#38bec7" stroke="#333" stroke-width="0.75"/>
<rect x="63.65" y="693.22" width="11.35" height="48.18" fill="#8fc9de" stroke="#333" stroke-width="0.75"/>
<rect x="75" y="657.35" width="11.35" height="84.05" fill="#fdd98c" stroke="#333" stroke-width="0.75"/>
<rect x="86.35" y="669.05" width="11.35" height="72.35" fill="#ec8178" stroke="#333" stroke-width="0.75"/>
<rect x="115.5" y="680.75" width="11.35" height="60.65" fill="#38bec7" stroke="#333" stroke-width="0.75"/>
<rect x="126.85" y="662.69" width="11.35" height="78.71" fill="#8fc9de" stroke="#333" stroke-width="0.75"/>
<rect x="138.2" y="678.21" width="11.35" height="63.19" fill="#fdd98c" stroke="#333" stroke-width="0.75"/>
<rect x="149.55" y="643.61" width="11.35" height="97.79" fill="#ec8178" stroke="#333" stroke-width="0.75"/>
<rect x="178.7" y="690.93" width="11.35" height="50.47" fill="#38bec7" stroke="#333" stroke-width="0.75"/>
<rect x="190.05" y="677.7" width="11.35" height="63.7" fill="#8fc9de" stroke="#333" stroke-width="0.75"/>
<rect x="201.4" y="667.78" width="11.35" height="73.62" fill="#fdd98c" stroke="#333" stroke-width="0.75"/>
<rect x="212.75" y="656.33" width="11.35" height="85.07" fill="#ec8178" stroke="#333" stroke-width="0.75"/>
<text x="60.27" y="737.1" font-size="9.92" textLength="19.56" lengthAdjust="spacingAndGlyphs" transform="rotate(-90 60.27 737.1)">60.5</text>
<text x="71.62" y="737.1" font-size="9.92" textLength="19.52" lengthAdjust="spacingAndGlyphs" transform="rotate(-90 71.62 737.1)">63.2</text>
<text x="82.97" y="737.1" font-size="9.92" textLength="19.54" lengthAdjust="spacingAndGlyphs" transform="rotate(-90 82.97 737.1)">77.3</text>
<text x="94.32" y="737.1" font-size="9.92" textLength="19.55" lengthAdjust="spacingAndGlyphs" transform="rotate(-90 94.32 737.1)">72.7</text>
<text x="123.47" y="737.1" font-size="9.92" textLength="19.58" lengthAdjust="spacingAndGlyphs" transform="rotate(-90 123.47 737.1)">68.1</text>
<text x="134.82" y="737.1" font-size="9.92" textLength="19.41" lengthAdjust="spacingAndGlyphs" transform="rotate(-90 134.82 737.1)">75.2</text>
<text x="146.18" y="737.1" font-size="9.92" textLength="19.58" lengthAdjust="spacingAndGlyphs" transform="rotate(-90 146.18 737.1)">69.1</text>
<text x="157.53" y="737.1" font-size="9.92" textLength="19.6" lengthAdjust="spacingAndGlyphs" transform="rotate(-90 157.53 737.1)">82.7</text>
<text x="186.68" y="737.1" font-size="9.92" textLength="19.58" lengthAdjust="spacingAndGlyphs" transform="rotate(-90 186.68 737.1)">64.1</text>
<text x="198.03" y="737.1" font-size="9.92" textLength="19.65" lengthAdjust="spacingAndGlyphs" transform="rotate(-90 198.03 737.1)">69.3</text>
<text x="209.38" y="737.1" font-size="9.92" textLength="19.41" lengthAdjust="spacingAndGlyphs" transform="rotate(-90 209.38 737.1)">73.2</text>
<text x="220.73" y="737.1" font-size="9.92" textLength="19.55" lengthAdjust="spacingAndGlyphs" transform="rotate(-90 220.73 737.1)">77.7</text>
<line x1="57.97" y1="681.52" x2="57.97" y2="722.48" stroke="#8a8a8a" stroke-width="0.9"/>
<circle cx="57.97" cy="681.52" r="1.75" fill="#0000ff"/>
<circle cx="57.97" cy="722.48" r="1.75" fill="#ff0000"/>
<circle cx="57.97" cy="700.09" r="1.75" fill="#000"/>
<line x1="69.33" y1="673.38" x2="69.33" y2="713.32" stroke="#8a8a8a" stroke-width="0.9"/>
<circle cx="69.33" cy="673.38" r="1.75" fill="#0000ff"/>
<circle cx="69.33" cy="713.32" r="1.75" fill="#ff0000"/>
<circle cx="69.33" cy="693.22" r="1.75" fill="#000"/>
<line x1="80.67" y1="640.81" x2="80.67" y2="675.16" stroke="#8a8a8a" stroke-width="0.9"/>
<circle cx="80.67" cy="640.81" r="1.75" fill="#0000ff"/>
<circle cx="80.67" cy="675.16" r="1.75" fill="#ff0000"/>
<circle cx="80.67" cy="657.35" r="1.75" fill="#000"/>
<line x1="92.02" y1="651.24" x2="92.02" y2="689.4" stroke="#8a8a8a" stroke-width="0.9"/>
<circle cx="92.02" cy="651.24" r="1.75" fill="#0000ff"/>
<circle cx="92.02" cy="689.4" r="1.75" fill="#ff0000"/>
<circle cx="92.02" cy="669.05" r="1.75" fill="#000"/>
<line x1="121.17" y1="669.05" x2="121.17" y2="693.47" stroke="#8a8a8a" stroke-width="0.9"/>
<circle cx="121.17" cy="669.05" r="1.75" fill="#0000ff"/>
<circle cx="121.17" cy="693.47" r="1.75" fill="#ff0000"/>
<circle cx="121.17" cy="680.75" r="1.75" fill="#000"/>
<line x1="132.52" y1="650.73" x2="132.52" y2="673.38" stroke="#8a8a8a" stroke-width="0.9"/>
<circle cx="132.52" cy="650.73" r="1.75" fill="#0000ff"/>
<circle cx="132.52" cy="673.38" r="1.75" fill="#ff0000"/>
<circle cx="132.52" cy="662.69" r="1.75" fill="#000"/>
<line x1="143.88" y1="666.25" x2="143.88" y2="690.42" stroke="#8a8a8a" stroke-width="0.9"/>
<circle cx="143.88" cy="666.25" r="1.75" fill="#0000ff"/>
<circle cx="143.88" cy="690.42" r="1.75" fill="#ff0000"/>
<circle cx="143.88" cy="678.21" r="1.75" fill="#000"/>
<line x1="155.22" y1="634.2" x2="155.22" y2="653.79" stroke="#8a8a8a" stroke-width="0.9"/>
<circle cx="155.22" cy="634.2" r="1.75" fill="#0000ff"/>
<circle cx="155.22" cy="653.79" r="1.75" fill="#ff0000"/>
<circle cx="155.22" cy="643.61" r="1.75" fill="#000"/>
<line x1="184.38" y1="678.72" x2="184.38" y2="702.63" stroke="#8a8a8a" stroke-width="0.9"/>
<circle cx="184.38" cy="678.72" r="1.75" fill="#0000ff"/>
<circle cx="184.38" cy="702.63" r="1.75" fill="#ff0000"/>
<circle cx="184.38" cy="690.93" r="1.75" fill="#000"/>
<line x1="195.73" y1="666.25" x2="195.73" y2="689.15" stroke="#8a8a8a" stroke-width="0.9"/>
<circle cx="195.73" cy="666.25" r="1.75" fill="#0000ff"/>
<circle cx="195.73" cy="689.15" r="1.75" fill="#ff0000"/>
<circle cx="195.73" cy="677.7" r="1.75" fill="#000"/>
<line x1="207.08" y1="656.59" x2="207.08" y2="679.23" stroke="#8a8a8a" stroke-width="0.9"/>
<circle cx="207.08" cy="656.59" r="1.75" fill="#0000ff"/>
<circle cx="207.08" cy="679.23" r="1.75" fill="#ff0000"/>
<circle cx="207.08" cy="667.78" r="1.75" fill="#000"/>
<line x1="218.43" y1="645.65" x2="218.43" y2="667.78" stroke="#8a8a8a" stroke-width="0.9"/>
<circle cx="218.43" cy="645.65" r="1.75" fill="#0000ff"/>
<circle cx="218.43" cy="667.78" r="1.75" fill="#ff0000"/>
<circle cx="218.43" cy="656.33" r="1.75" fill="#000"/>
</g>
<rect x="46.3" y="596.3" width="68.3" height="53.6" rx="1.2" fill="#fff" fill-opacity="0.8" stroke="#d8d8d8" stroke-width="0.7"/>
<circle cx="53.5" cy="600.9" r="1.6" fill="#000"/>
<text x="62.2" y="602.8" font-size="5.32" fill="#222" textLength="14.23" lengthAdjust="spacingAndGlyphs">mean</text>
<circle cx="53.5" cy="608.36" r="1.6" fill="#0000ff"/>
<text x="62.2" y="610.26" font-size="5.32" fill="#222" textLength="50.19" lengthAdjust="spacingAndGlyphs">95%CI upper bound</text>
<circle cx="53.5" cy="615.82" r="1.6" fill="#ff0000"/>
<text x="62.2" y="617.72" font-size="5.32" fill="#222" textLength="49.2" lengthAdjust="spacingAndGlyphs">95%CI lower bound</text>
<rect x="48.5" y="621.08" width="10.2" height="4.4" fill="#38bec7" stroke="#333" stroke-width="0.6"/>
<text x="62.2" y="625.18" font-size="5.32" fill="#222" textLength="18.6" lengthAdjust="spacingAndGlyphs">TE-LSM</text>
<rect x="48.5" y="628.54" width="10.2" height="4.4" fill="#8fc9de" stroke="#333" stroke-width="0.6"/>
<text x="62.2" y="632.64" font-size="5.32" fill="#222" textLength="43.9" lengthAdjust="spacingAndGlyphs">Unimodal Clinical</text>
<rect x="48.5" y="636" width="10.2" height="4.4" fill="#fdd98c" stroke="#333" stroke-width="0.6"/>
<text x="62.2" y="640.1" font-size="5.32" fill="#222" textLength="41.58" lengthAdjust="spacingAndGlyphs">Unimodal Image</text>
<rect x="48.5" y="643.46" width="10.2" height="4.4" fill="#ec8178" stroke="#333" stroke-width="0.6"/>
<text x="62.2" y="647.56" font-size="5.32" fill="#222" textLength="18.04" lengthAdjust="spacingAndGlyphs">MAOSS</text>
<rect x="43.5" y="594.7" width="189.4" height="144.7" fill="none" stroke="#4a4a4a" stroke-width="0.8"/>
<line x1="41.2" y1="726.8" x2="43.5" y2="726.8" stroke="#2a2a2a" stroke-width="0.9"/>
<text x="39.3" y="729.8" font-size="8.35" text-anchor="end" textLength="9.12" lengthAdjust="spacingAndGlyphs">50</text>
<line x1="41.2" y1="701.36" x2="43.5" y2="701.36" stroke="#2a2a2a" stroke-width="0.9"/>
<text x="39.3" y="704.36" font-size="8.35" text-anchor="end" textLength="9.27" lengthAdjust="spacingAndGlyphs">60</text>
<line x1="41.2" y1="675.92" x2="43.5" y2="675.92" stroke="#2a2a2a" stroke-width="0.9"/>
<text x="39.3" y="678.92" font-size="8.35" text-anchor="end" textLength="9.18" lengthAdjust="spacingAndGlyphs">70</text>
<line x1="41.2" y1="650.48" x2="43.5" y2="650.48" stroke="#2a2a2a" stroke-width="0.9"/>
<text x="39.3" y="653.48" font-size="8.35" text-anchor="end" textLength="9.22" lengthAdjust="spacingAndGlyphs">80</text>
<line x1="41.2" y1="625.04" x2="43.5" y2="625.04" stroke="#2a2a2a" stroke-width="0.9"/>
<text x="39.3" y="628.04" font-size="8.35" text-anchor="end" textLength="9.29" lengthAdjust="spacingAndGlyphs">90</text>
<line x1="41.2" y1="599.6" x2="43.5" y2="599.6" stroke="#2a2a2a" stroke-width="0.9"/>
<text x="39.3" y="602.6" font-size="8.35" text-anchor="end" textLength="13.96" lengthAdjust="spacingAndGlyphs">100</text>
<line x1="75" y1="739.4" x2="75" y2="741.7" stroke="#2a2a2a" stroke-width="0.9"/>
<text x="75" y="750.2" font-size="8.44" text-anchor="middle" textLength="39.15" lengthAdjust="spacingAndGlyphs">Sensitivity</text>
<line x1="138.2" y1="739.4" x2="138.2" y2="741.7" stroke="#2a2a2a" stroke-width="0.9"/>
<text x="138.2" y="750.2" font-size="8.44" text-anchor="middle" textLength="38.75" lengthAdjust="spacingAndGlyphs">Specificity</text>
<line x1="201.4" y1="739.4" x2="201.4" y2="741.7" stroke="#2a2a2a" stroke-width="0.9"/>
<text x="201.4" y="750.2" font-size="8.44" text-anchor="middle" textLength="20.57" lengthAdjust="spacingAndGlyphs">BACC</text>
<text x="138.2" y="760.8" font-size="9.93" text-anchor="middle" textLength="91.6" lengthAdjust="spacingAndGlyphs">Performance Metrics</text>
<text x="21.5" y="667.05" font-size="9.93" text-anchor="middle" textLength="47.23" lengthAdjust="spacingAndGlyphs" transform="rotate(-90 21.5 667.05)">Values (%)</text>
</g>
<g>
<defs><clipPath id="clip_d2"><rect x="269.3" y="594.7" width="189.6" height="144.7"/></clipPath></defs>
<g clip-path="url(#clip_d2)">
<rect x="278" y="690.68" width="11.35" height="50.72" fill="#38bec7" stroke="#333" stroke-width="0.75"/>
<rect x="289.35" y="678.97" width="11.35" height="62.43" fill="#8fc9de" stroke="#333" stroke-width="0.75"/>
<rect x="300.7" y="659.13" width="11.35" height="82.27" fill="#fdd98c" stroke="#333" stroke-width="0.75"/>
<rect x="312.05" y="633.94" width="11.35" height="107.46" fill="#ec8178" stroke="#333" stroke-width="0.75"/>
<rect x="341.2" y="682.28" width="11.35" height="59.12" fill="#38bec7" stroke="#333" stroke-width="0.75"/>
<rect x="352.55" y="665.74" width="11.35" height="75.66" fill="#8fc9de" stroke="#333" stroke-width="0.75"/>
<rect x="363.9" y="635.47" width="11.35" height="105.93" fill="#fdd98c" stroke="#333" stroke-width="0.75"/>
<rect x="375.25" y="622.75" width="11.35" height="118.65" fill="#ec8178" stroke="#333" stroke-width="0.75"/>
<rect x="404.4" y="686.1" width="11.35" height="55.3" fill="#38bec7" stroke="#333" stroke-width="0.75"/>
<rect x="415.75" y="672.87" width="11.35" height="68.53" fill="#8fc9de" stroke="#333" stroke-width="0.75"/>
<rect x="427.1" y="647.17" width="11.35" height="94.23" fill="#fdd98c" stroke="#333" stroke-width="0.75"/>
<rect x="438.45" y="628.6" width="11.35" height="112.8" fill="#ec8178" stroke="#333" stroke-width="0.75"/>
<text x="285.98" y="737.1" font-size="9.92" textLength="19.52" lengthAdjust="spacingAndGlyphs" transform="rotate(-90 285.98 737.1)">64.2</text>
<text x="297.33" y="737.1" font-size="9.92" textLength="19.75" lengthAdjust="spacingAndGlyphs" transform="rotate(-90 297.33 737.1)">68.8</text>
<text x="308.68" y="737.1" font-size="9.92" textLength="19.7" lengthAdjust="spacingAndGlyphs" transform="rotate(-90 308.68 737.1)">76.6</text>
<text x="320.03" y="737.1" font-size="9.92" textLength="19.5" lengthAdjust="spacingAndGlyphs" transform="rotate(-90 320.03 737.1)">86.5</text>
<text x="349.18" y="737.1" font-size="9.92" textLength="19.56" lengthAdjust="spacingAndGlyphs" transform="rotate(-90 349.18 737.1)">67.5</text>
<text x="360.53" y="737.1" font-size="9.92" textLength="19.61" lengthAdjust="spacingAndGlyphs" transform="rotate(-90 360.53 737.1)">74.0</text>
<text x="371.88" y="737.1" font-size="9.92" textLength="19.72" lengthAdjust="spacingAndGlyphs" transform="rotate(-90 371.88 737.1)">85.9</text>
<text x="383.23" y="737.1" font-size="9.92" textLength="19.8" lengthAdjust="spacingAndGlyphs" transform="rotate(-90 383.23 737.1)">90.9</text>
<text x="412.38" y="737.1" font-size="9.92" textLength="19.72" lengthAdjust="spacingAndGlyphs" transform="rotate(-90 412.38 737.1)">66.0</text>
<text x="423.73" y="737.1" font-size="9.92" textLength="19.41" lengthAdjust="spacingAndGlyphs" transform="rotate(-90 423.73 737.1)">71.2</text>
<text x="435.08" y="737.1" font-size="9.92" textLength="19.59" lengthAdjust="spacingAndGlyphs" transform="rotate(-90 435.08 737.1)">81.3</text>
<text x="446.43" y="737.1" font-size="9.92" textLength="19.75" lengthAdjust="spacingAndGlyphs" transform="rotate(-90 446.43 737.1)">88.6</text>
<line x1="283.68" y1="663.71" x2="283.68" y2="720.69" stroke="#8a8a8a" stroke-width="0.9"/>
<circle cx="283.68" cy="663.71" r="1.75" fill="#0000ff"/>
<circle cx="283.68" cy="720.69" r="1.75" fill="#ff0000"/>
<circle cx="283.68" cy="690.68" r="1.75" fill="#000"/>
<line x1="295.03" y1="652.52" x2="295.03" y2="708.23" stroke="#8a8a8a" stroke-width="0.9"/>
<circle cx="295.03" cy="652.52" r="1.75" fill="#0000ff"/>
<circle cx="295.03" cy="708.23" r="1.75" fill="#ff0000"/>
<circle cx="295.03" cy="678.97" r="1.75" fill="#000"/>
<line x1="306.38" y1="636.23" x2="306.38" y2="685.59" stroke="#8a8a8a" stroke-width="0.9"/>
<circle cx="306.38" cy="636.23" r="1.75" fill="#0000ff"/>
<circle cx="306.38" cy="685.59" r="1.75" fill="#ff0000"/>
<circle cx="306.38" cy="659.13" r="1.75" fill="#000"/>
<line x1="317.73" y1="614.86" x2="317.73" y2="655.06" stroke="#8a8a8a" stroke-width="0.9"/>
<circle cx="317.73" cy="614.86" r="1.75" fill="#0000ff"/>
<circle cx="317.73" cy="655.06" r="1.75" fill="#ff0000"/>
<circle cx="317.73" cy="633.94" r="1.75" fill="#000"/>
<line x1="346.88" y1="670.58" x2="346.88" y2="693.98" stroke="#8a8a8a" stroke-width="0.9"/>
<circle cx="346.88" cy="670.58" r="1.75" fill="#0000ff"/>
<circle cx="346.88" cy="693.98" r="1.75" fill="#ff0000"/>
<circle cx="346.88" cy="682.28" r="1.75" fill="#000"/>
<line x1="358.23" y1="654.55" x2="358.23" y2="676.43" stroke="#8a8a8a" stroke-width="0.9"/>
<circle cx="358.23" cy="654.55" r="1.75" fill="#0000ff"/>
<circle cx="358.23" cy="676.43" r="1.75" fill="#ff0000"/>
<circle cx="358.23" cy="665.74" r="1.75" fill="#000"/>
<line x1="369.57" y1="626.57" x2="369.57" y2="644.12" stroke="#8a8a8a" stroke-width="0.9"/>
<circle cx="369.57" cy="626.57" r="1.75" fill="#0000ff"/>
<circle cx="369.57" cy="644.12" r="1.75" fill="#ff0000"/>
<circle cx="369.57" cy="635.47" r="1.75" fill="#000"/>
<line x1="380.93" y1="615.63" x2="380.93" y2="630.38" stroke="#8a8a8a" stroke-width="0.9"/>
<circle cx="380.93" cy="615.63" r="1.75" fill="#0000ff"/>
<circle cx="380.93" cy="630.38" r="1.75" fill="#ff0000"/>
<circle cx="380.93" cy="622.75" r="1.75" fill="#000"/>
<line x1="410.08" y1="671.09" x2="410.08" y2="701.11" stroke="#8a8a8a" stroke-width="0.9"/>
<circle cx="410.08" cy="671.09" r="1.75" fill="#0000ff"/>
<circle cx="410.08" cy="701.11" r="1.75" fill="#ff0000"/>
<circle cx="410.08" cy="686.1" r="1.75" fill="#000"/>
<line x1="421.43" y1="658.88" x2="421.43" y2="689.15" stroke="#8a8a8a" stroke-width="0.9"/>
<circle cx="421.43" cy="658.88" r="1.75" fill="#0000ff"/>
<circle cx="421.43" cy="689.15" r="1.75" fill="#ff0000"/>
<circle cx="421.43" cy="672.87" r="1.75" fill="#000"/>
<line x1="432.78" y1="633.94" x2="432.78" y2="659.38" stroke="#8a8a8a" stroke-width="0.9"/>
<circle cx="432.78" cy="633.94" r="1.75" fill="#0000ff"/>
<circle cx="432.78" cy="659.38" r="1.75" fill="#ff0000"/>
<circle cx="432.78" cy="647.17" r="1.75" fill="#000"/>
<line x1="444.13" y1="617.92" x2="444.13" y2="640.3" stroke="#8a8a8a" stroke-width="0.9"/>
<circle cx="444.13" cy="617.92" r="1.75" fill="#0000ff"/>
<circle cx="444.13" cy="640.3" r="1.75" fill="#ff0000"/>
<circle cx="444.13" cy="628.6" r="1.75" fill="#000"/>
</g>
<rect x="269.3" y="594.7" width="189.6" height="144.7" fill="none" stroke="#4a4a4a" stroke-width="0.8"/>
<line x1="267" y1="726.8" x2="269.3" y2="726.8" stroke="#2a2a2a" stroke-width="0.9"/>
<text x="265.1" y="729.8" font-size="8.35" text-anchor="end" textLength="9.12" lengthAdjust="spacingAndGlyphs">50</text>
<line x1="267" y1="701.36" x2="269.3" y2="701.36" stroke="#2a2a2a" stroke-width="0.9"/>
<text x="265.1" y="704.36" font-size="8.35" text-anchor="end" textLength="9.27" lengthAdjust="spacingAndGlyphs">60</text>
<line x1="267" y1="675.92" x2="269.3" y2="675.92" stroke="#2a2a2a" stroke-width="0.9"/>
<text x="265.1" y="678.92" font-size="8.35" text-anchor="end" textLength="9.18" lengthAdjust="spacingAndGlyphs">70</text>
<line x1="267" y1="650.48" x2="269.3" y2="650.48" stroke="#2a2a2a" stroke-width="0.9"/>
<text x="265.1" y="653.48" font-size="8.35" text-anchor="end" textLength="9.22" lengthAdjust="spacingAndGlyphs">80</text>
<line x1="267" y1="625.04" x2="269.3" y2="625.04" stroke="#2a2a2a" stroke-width="0.9"/>
<text x="265.1" y="628.04" font-size="8.35" text-anchor="end" textLength="9.29" lengthAdjust="spacingAndGlyphs">90</text>
<line x1="267" y1="599.6" x2="269.3" y2="599.6" stroke="#2a2a2a" stroke-width="0.9"/>
<text x="265.1" y="602.6" font-size="8.35" text-anchor="end" textLength="13.96" lengthAdjust="spacingAndGlyphs">100</text>
<line x1="300.7" y1="739.4" x2="300.7" y2="741.7" stroke="#2a2a2a" stroke-width="0.9"/>
<text x="300.7" y="750.2" font-size="8.44" text-anchor="middle" textLength="39.15" lengthAdjust="spacingAndGlyphs">Sensitivity</text>
<line x1="363.9" y1="739.4" x2="363.9" y2="741.7" stroke="#2a2a2a" stroke-width="0.9"/>
<text x="363.9" y="750.2" font-size="8.44" text-anchor="middle" textLength="38.75" lengthAdjust="spacingAndGlyphs">Specificity</text>
<line x1="427.1" y1="739.4" x2="427.1" y2="741.7" stroke="#2a2a2a" stroke-width="0.9"/>
<text x="427.1" y="750.2" font-size="8.44" text-anchor="middle" textLength="20.57" lengthAdjust="spacingAndGlyphs">BACC</text>
<text x="364.1" y="760.8" font-size="9.93" text-anchor="middle" textLength="91.6" lengthAdjust="spacingAndGlyphs">Performance Metrics</text>
<text x="247.3" y="667.05" font-size="9.93" text-anchor="middle" textLength="47.23" lengthAdjust="spacingAndGlyphs" transform="rotate(-90 247.3 667.05)">Values (%)</text>
</g>
<g>
<defs><clipPath id="clip_d3"><rect x="495.5" y="594.7" width="189" height="144.7"/></clipPath></defs>
<g clip-path="url(#clip_d3)">
<rect x="504.5" y="657.09" width="11.35" height="84.31" fill="#38bec7" stroke="#333" stroke-width="0.75"/>
<rect x="515.85" y="678.97" width="11.35" height="62.43" fill="#8fc9de" stroke="#333" stroke-width="0.75"/>
<rect x="527.2" y="643.36" width="11.35" height="98.04" fill="#fdd98c" stroke="#333" stroke-width="0.75"/>
<rect x="538.55" y="635.47" width="11.35" height="105.93" fill="#ec8178" stroke="#333" stroke-width="0.75"/>
<rect x="567.6" y="679.48" width="11.35" height="61.92" fill="#38bec7" stroke="#333" stroke-width="0.75"/>
<rect x="578.95" y="672.1" width="11.35" height="69.3" fill="#8fc9de" stroke="#333" stroke-width="0.75"/>
<rect x="590.3" y="633.44" width="11.35" height="107.96" fill="#fdd98c" stroke="#333" stroke-width="0.75"/>
<rect x="601.65" y="610.54" width="11.35" height="130.86" fill="#ec8178" stroke="#333" stroke-width="0.75"/>
<rect x="630.7" y="668.54" width="11.35" height="72.86" fill="#38bec7" stroke="#333" stroke-width="0.75"/>
<rect x="642.05" y="675.92" width="11.35" height="65.48" fill="#8fc9de" stroke="#333" stroke-width="0.75"/>
<rect x="653.4" y="638.52" width="11.35" height="102.88" fill="#fdd98c" stroke="#333" stroke-width="0.75"/>
<rect x="664.75" y="622.75" width="11.35" height="118.65" fill="#ec8178" stroke="#333" stroke-width="0.75"/>
<text x="512.48" y="737.1" font-size="9.92" textLength="19.61" lengthAdjust="spacingAndGlyphs" transform="rotate(-90 512.48 737.1)">77.4</text>
<text x="523.82" y="737.1" font-size="9.92" textLength="19.75" lengthAdjust="spacingAndGlyphs" transform="rotate(-90 523.82 737.1)">68.8</text>
<text x="535.17" y="737.1" font-size="9.92" textLength="19.69" lengthAdjust="spacingAndGlyphs" transform="rotate(-90 535.17 737.1)">82.8</text>
<text x="546.52" y="737.1" font-size="9.92" textLength="19.72" lengthAdjust="spacingAndGlyphs" transform="rotate(-90 546.52 737.1)">85.9</text>
<text x="575.57" y="737.1" font-size="9.92" textLength="19.81" lengthAdjust="spacingAndGlyphs" transform="rotate(-90 575.57 737.1)">68.6</text>
<text x="586.92" y="737.1" font-size="9.92" textLength="19.45" lengthAdjust="spacingAndGlyphs" transform="rotate(-90 586.92 737.1)">71.5</text>
<text x="598.27" y="737.1" font-size="9.92" textLength="19.6" lengthAdjust="spacingAndGlyphs" transform="rotate(-90 598.27 737.1)">86.7</text>
<text x="609.62" y="737.1" font-size="9.92" textLength="19.69" lengthAdjust="spacingAndGlyphs" transform="rotate(-90 609.62 737.1)">95.7</text>
<text x="638.67" y="737.1" font-size="9.92" textLength="19.66" lengthAdjust="spacingAndGlyphs" transform="rotate(-90 638.67 737.1)">72.9</text>
<text x="650.02" y="737.1" font-size="9.92" textLength="19.61" lengthAdjust="spacingAndGlyphs" transform="rotate(-90 650.02 737.1)">70.0</text>
<text x="661.37" y="737.1" font-size="9.92" textLength="19.6" lengthAdjust="spacingAndGlyphs" transform="rotate(-90 661.37 737.1)">84.7</text>
<text x="672.72" y="737.1" font-size="9.92" textLength="19.8" lengthAdjust="spacingAndGlyphs" transform="rotate(-90 672.72 737.1)">90.9</text>
<line x1="510.18" y1="620.72" x2="510.18" y2="695" stroke="#8a8a8a" stroke-width="0.9"/>
<circle cx="510.18" cy="620.72" r="1.75" fill="#0000ff"/>
<circle cx="510.18" cy="695" r="1.75" fill="#ff0000"/>
<circle cx="510.18" cy="657.09" r="1.75" fill="#000"/>
<line x1="521.52" y1="640.3" x2="521.52" y2="717.39" stroke="#8a8a8a" stroke-width="0.9"/>
<circle cx="521.52" cy="640.3" r="1.75" fill="#0000ff"/>
<circle cx="521.52" cy="717.39" r="1.75" fill="#ff0000"/>
<circle cx="521.52" cy="678.97" r="1.75" fill="#000"/>
<line x1="532.88" y1="614.86" x2="532.88" y2="674.9" stroke="#8a8a8a" stroke-width="0.9"/>
<circle cx="532.88" cy="614.86" r="1.75" fill="#0000ff"/>
<circle cx="532.88" cy="674.9" r="1.75" fill="#ff0000"/>
<circle cx="532.88" cy="643.36" r="1.75" fill="#000"/>
<line x1="544.23" y1="608.25" x2="544.23" y2="666.25" stroke="#8a8a8a" stroke-width="0.9"/>
<circle cx="544.23" cy="608.25" r="1.75" fill="#0000ff"/>
<circle cx="544.23" cy="666.25" r="1.75" fill="#ff0000"/>
<circle cx="544.23" cy="635.47" r="1.75" fill="#000"/>
<line x1="573.27" y1="668.29" x2="573.27" y2="691.44" stroke="#8a8a8a" stroke-width="0.9"/>
<circle cx="573.27" cy="668.29" r="1.75" fill="#0000ff"/>
<circle cx="573.27" cy="691.44" r="1.75" fill="#ff0000"/>
<circle cx="573.27" cy="679.48" r="1.75" fill="#000"/>
<line x1="584.62" y1="661.42" x2="584.62" y2="683.04" stroke="#8a8a8a" stroke-width="0.9"/>
<circle cx="584.62" cy="661.42" r="1.75" fill="#0000ff"/>
<circle cx="584.62" cy="683.04" r="1.75" fill="#ff0000"/>
<circle cx="584.62" cy="672.1" r="1.75" fill="#000"/>
<line x1="595.97" y1="625.8" x2="595.97" y2="642.08" stroke="#8a8a8a" stroke-width="0.9"/>
<circle cx="595.97" cy="625.8" r="1.75" fill="#0000ff"/>
<circle cx="595.97" cy="642.08" r="1.75" fill="#ff0000"/>
<circle cx="595.97" cy="633.44" r="1.75" fill="#000"/>
<line x1="607.32" y1="605.71" x2="607.32" y2="615.37" stroke="#8a8a8a" stroke-width="0.9"/>
<circle cx="607.32" cy="605.71" r="1.75" fill="#0000ff"/>
<circle cx="607.32" cy="615.37" r="1.75" fill="#ff0000"/>
<circle cx="607.32" cy="610.54" r="1.75" fill="#000"/>
<line x1="636.37" y1="649.21" x2="636.37" y2="688.64" stroke="#8a8a8a" stroke-width="0.9"/>
<circle cx="636.37" cy="649.21" r="1.75" fill="#0000ff"/>
<circle cx="636.37" cy="688.64" r="1.75" fill="#ff0000"/>
<circle cx="636.37" cy="668.54" r="1.75" fill="#000"/>
<line x1="647.72" y1="656.08" x2="647.72" y2="695.51" stroke="#8a8a8a" stroke-width="0.9"/>
<circle cx="647.72" cy="656.08" r="1.75" fill="#0000ff"/>
<circle cx="647.72" cy="695.51" r="1.75" fill="#ff0000"/>
<circle cx="647.72" cy="675.92" r="1.75" fill="#000"/>
<line x1="659.07" y1="623.26" x2="659.07" y2="656.59" stroke="#8a8a8a" stroke-width="0.9"/>
<circle cx="659.07" cy="623.26" r="1.75" fill="#0000ff"/>
<circle cx="659.07" cy="656.59" r="1.75" fill="#ff0000"/>
<circle cx="659.07" cy="638.52" r="1.75" fill="#000"/>
<line x1="670.42" y1="609.01" x2="670.42" y2="637.51" stroke="#8a8a8a" stroke-width="0.9"/>
<circle cx="670.42" cy="609.01" r="1.75" fill="#0000ff"/>
<circle cx="670.42" cy="637.51" r="1.75" fill="#ff0000"/>
<circle cx="670.42" cy="622.75" r="1.75" fill="#000"/>
</g>
<rect x="495.5" y="594.7" width="189" height="144.7" fill="none" stroke="#4a4a4a" stroke-width="0.8"/>
<line x1="493.2" y1="726.8" x2="495.5" y2="726.8" stroke="#2a2a2a" stroke-width="0.9"/>
<text x="491.3" y="729.8" font-size="8.35" text-anchor="end" textLength="9.12" lengthAdjust="spacingAndGlyphs">50</text>
<line x1="493.2" y1="701.36" x2="495.5" y2="701.36" stroke="#2a2a2a" stroke-width="0.9"/>
<text x="491.3" y="704.36" font-size="8.35" text-anchor="end" textLength="9.27" lengthAdjust="spacingAndGlyphs">60</text>
<line x1="493.2" y1="675.92" x2="495.5" y2="675.92" stroke="#2a2a2a" stroke-width="0.9"/>
<text x="491.3" y="678.92" font-size="8.35" text-anchor="end" textLength="9.18" lengthAdjust="spacingAndGlyphs">70</text>
<line x1="493.2" y1="650.48" x2="495.5" y2="650.48" stroke="#2a2a2a" stroke-width="0.9"/>
<text x="491.3" y="653.48" font-size="8.35" text-anchor="end" textLength="9.22" lengthAdjust="spacingAndGlyphs">80</text>
<line x1="493.2" y1="625.04" x2="495.5" y2="625.04" stroke="#2a2a2a" stroke-width="0.9"/>
<text x="491.3" y="628.04" font-size="8.35" text-anchor="end" textLength="9.29" lengthAdjust="spacingAndGlyphs">90</text>
<line x1="493.2" y1="599.6" x2="495.5" y2="599.6" stroke="#2a2a2a" stroke-width="0.9"/>
<text x="491.3" y="602.6" font-size="8.35" text-anchor="end" textLength="13.96" lengthAdjust="spacingAndGlyphs">100</text>
<line x1="527.2" y1="739.4" x2="527.2" y2="741.7" stroke="#2a2a2a" stroke-width="0.9"/>
<text x="527.2" y="750.2" font-size="8.44" text-anchor="middle" textLength="39.15" lengthAdjust="spacingAndGlyphs">Sensitivity</text>
<line x1="590.3" y1="739.4" x2="590.3" y2="741.7" stroke="#2a2a2a" stroke-width="0.9"/>
<text x="590.3" y="750.2" font-size="8.44" text-anchor="middle" textLength="38.75" lengthAdjust="spacingAndGlyphs">Specificity</text>
<line x1="653.4" y1="739.4" x2="653.4" y2="741.7" stroke="#2a2a2a" stroke-width="0.9"/>
<text x="653.4" y="750.2" font-size="8.44" text-anchor="middle" textLength="20.57" lengthAdjust="spacingAndGlyphs">BACC</text>
<text x="590" y="760.8" font-size="9.93" text-anchor="middle" textLength="91.6" lengthAdjust="spacingAndGlyphs">Performance Metrics</text>
<text x="473.5" y="667.05" font-size="9.93" text-anchor="middle" textLength="47.23" lengthAdjust="spacingAndGlyphs" transform="rotate(-90 473.5 667.05)">Values (%)</text>
</g>
<text x="102.08" y="12.3" font-size="14.2" font-weight="bold" fill="#000" textLength="31.24" lengthAdjust="spacingAndGlyphs">F0-1</text>
<text x="140.74" y="12.3" font-size="14.2" font-weight="bold" fill="#000" textLength="16.46" lengthAdjust="spacingAndGlyphs">vs</text>
<text x="162.07" y="12.3" font-size="14.2" fill="#000" textLength="10.84" lengthAdjust="spacingAndGlyphs">≥</text>
<text x="179.15" y="12.3" font-size="14.2" font-weight="bold" fill="#000" textLength="18.38" lengthAdjust="spacingAndGlyphs">F2</text>
<text x="311.64" y="12.3" font-size="14.2" fill="#000" textLength="11.84" lengthAdjust="spacingAndGlyphs">≤</text>
<text x="327.8" y="12.3" font-size="14.2" font-weight="bold" fill="#000" textLength="19.27" lengthAdjust="spacingAndGlyphs">F2</text>
<text x="351.64" y="12.3" font-size="14.2" font-weight="bold" fill="#000" textLength="16.36" lengthAdjust="spacingAndGlyphs">vs</text>
<text x="373.81" y="12.3" font-size="14.2" fill="#000" textLength="11.86" lengthAdjust="spacingAndGlyphs">≥</text>
<text x="389.94" y="12.3" font-size="14.2" font-weight="bold" fill="#000" textLength="20.18" lengthAdjust="spacingAndGlyphs">F3</text>
<text x="543.34" y="12.3" font-size="14.2" fill="#000" textLength="11.84" lengthAdjust="spacingAndGlyphs">≤</text>
<text x="559.6" y="12.3" font-size="14.2" font-weight="bold" fill="#000" textLength="19.19" lengthAdjust="spacingAndGlyphs">F3</text>
<text x="583.34" y="12.3" font-size="14.2" font-weight="bold" fill="#000" textLength="16.46" lengthAdjust="spacingAndGlyphs">vs</text>
<text x="605.08" y="12.3" font-size="14.2" font-weight="bold" fill="#000" textLength="19.61" lengthAdjust="spacingAndGlyphs">F4</text>
<text x="-1.8" y="31.1" font-size="24.6" font-weight="bold" fill="#000">a</text>
<text x="-0.7" y="223.4" font-size="24.6" font-weight="bold" fill="#000">b</text>
<text x="-0.4" y="418.4" font-size="24.6" font-weight="bold" fill="#000">c</text>
<text x="-0.8" y="598.8" font-size="24.6" font-weight="bold" fill="#000">d</text>
</svg>
</body></html>
